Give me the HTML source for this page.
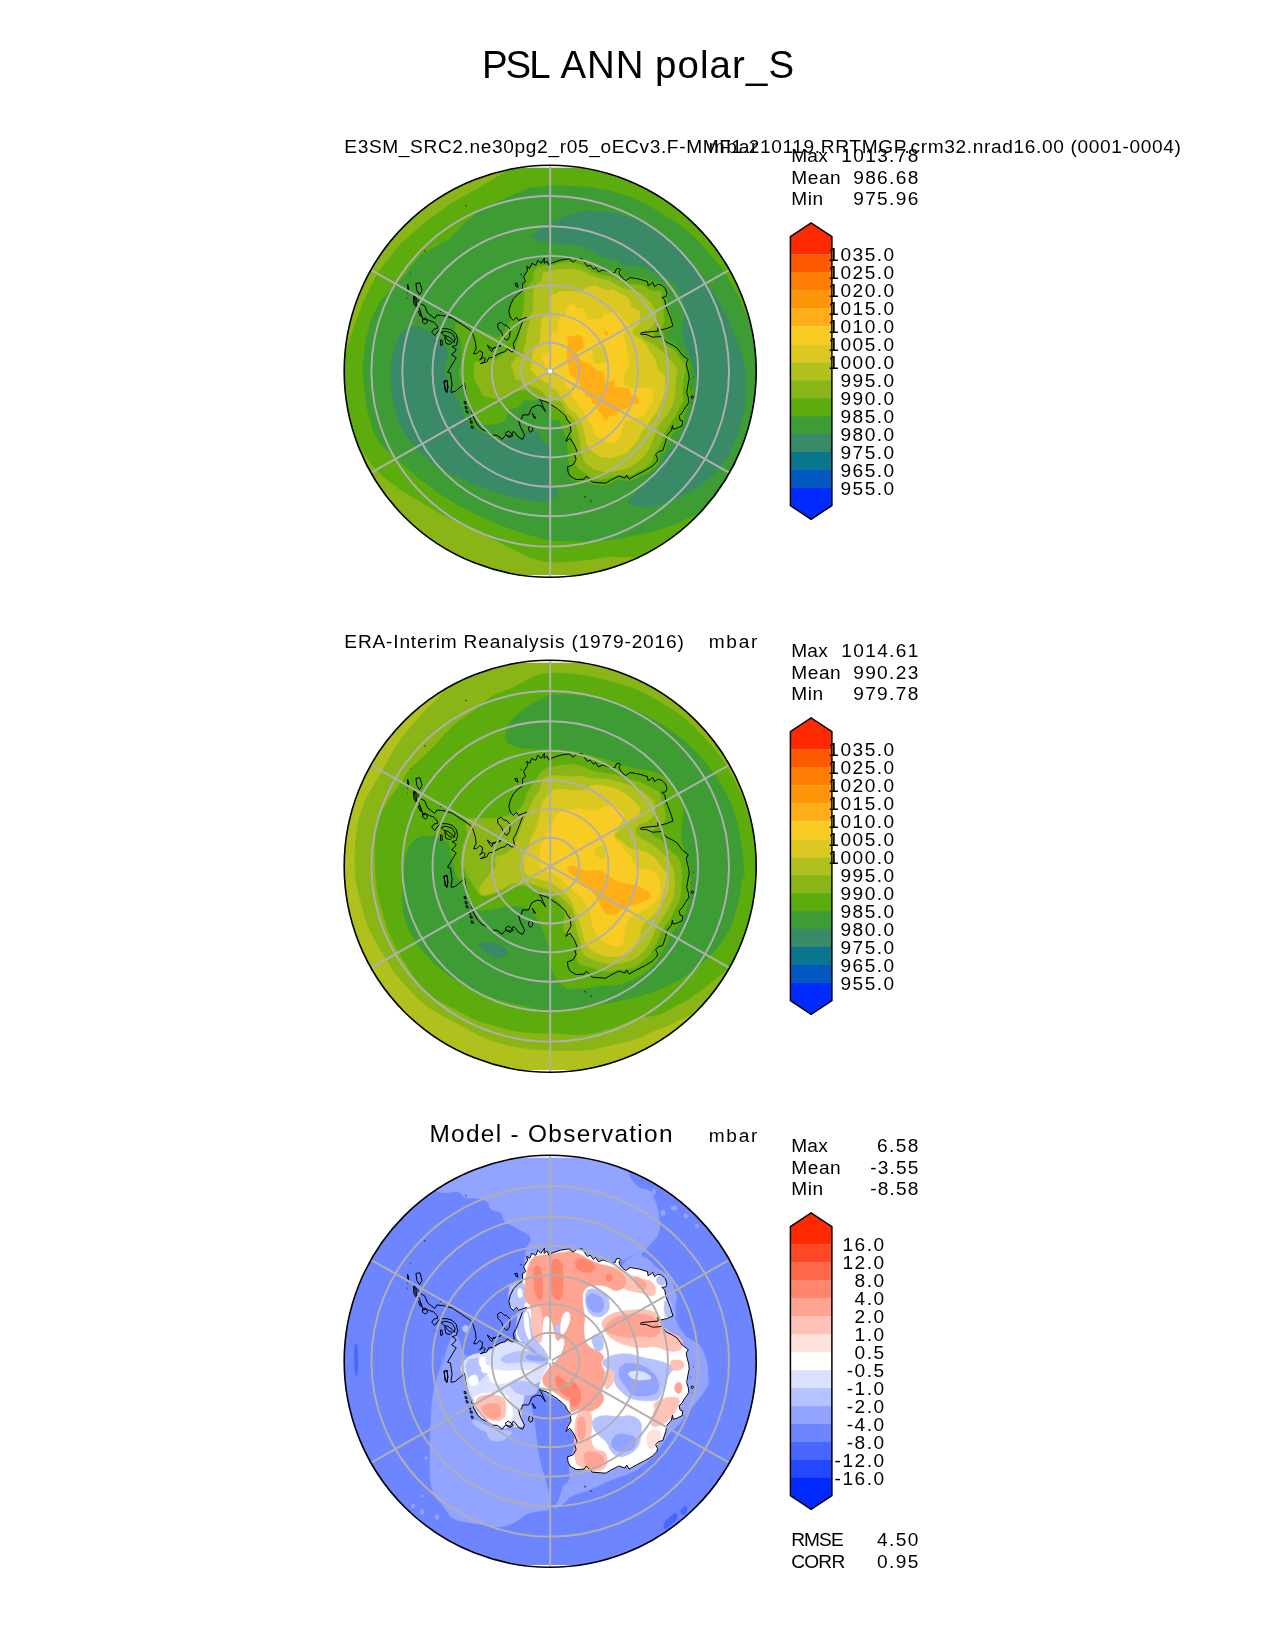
<!DOCTYPE html><html><head><meta charset="utf-8"><style>html,body{margin:0;padding:0;background:#fff}svg{display:block;will-change:transform}text{font-family:"Liberation Sans",sans-serif;fill:#000}</style></head><body>
<svg width="1275" height="1650" viewBox="0 0 1275 1650">
<rect width="1275" height="1650" fill="#fff"/>
<defs>
<clipPath id="c0"><circle cx="550.2" cy="371.3" r="206.0"/></clipPath>
<clipPath id="c1"><circle cx="550.2" cy="866.3" r="206.0"/></clipPath>
<clipPath id="c2"><circle cx="550.2" cy="1361.3" r="206.0"/></clipPath>
</defs>
<g clip-path="url(#c0)">
<rect x="340" y="161.3" width="420" height="420" fill="#5dac0e"/>
<path d="M343.5 360.5 L350.3 336.0 L362.3 302.9 L377.9 271.8 L399.3 244.7 L424.9 221.9 L452.4 202.0 L482.5 185.2 L510.7 168.1 L509.2 160.3 L442.7 185.1 L385.5 233.1 L348.2 297.8 L335.5 360.0Z" fill="#8ab516" stroke="#8ab516" stroke-width="0.6"/>
<path d="M638.0 558.0 L610.0 557.0 L590.0 560.0 L570.0 562.0 L550.0 563.0 L530.0 558.0 L510.0 548.5 L480.0 532.0 L460.0 523.0 L440.0 514.0 L420.0 502.0 L400.0 490.0 L384.0 478.0 L372.0 466.0 L364.0 454.0 L358.0 444.0 L320.0 444.0 L320.0 620.0 L660.0 620.0Z" fill="#8ab516" stroke="#8ab516" stroke-width="0.6"/>
<path d="M550.0 186.0 L570.0 186.0 L590.0 187.4 L610.0 191.0 L630.0 197.0 L650.0 206.4 L670.0 219.0 L686.0 230.0 L695.3 238.2 L703.4 247.3 L713.6 259.6 L721.8 268.7 L727.9 277.9 L733.0 287.1 L738.0 296.3 L742.2 305.4 L747.0 318.0 L765.0 318.0 L765.0 500.0 L700.0 514.0 L691.7 516.3 L672.9 525.1 L647.8 532.6 L622.7 537.6 L597.6 541.4 L570.0 541.0 L550.0 540.4 L540.0 538.0 L520.0 532.0 L500.0 525.0 L480.0 516.0 L460.0 506.0 L440.0 494.0 L420.0 479.0 L398.0 460.0 L382.0 446.0 L373.0 430.0 L367.6 410.0 L364.4 390.0 L363.0 370.0 L363.6 360.0 L366.0 340.0 L371.0 320.0 L380.0 302.0 L394.0 286.0 L406.0 274.0 L420.0 256.0 L434.0 248.0 L448.0 240.0 L464.0 224.0 L480.0 210.0 L506.0 198.0 L530.0 188.0Z" fill="#3e9c35" stroke="#3e9c35" stroke-width="0.6"/>
<path d="M531.0 237.0 L540.0 229.0 L550.0 224.0 L570.0 215.0 L586.0 211.0 L610.0 212.4 L630.0 217.6 L650.0 226.0 L653.5 230.0 L663.6 236.1 L675.9 246.3 L687.1 257.5 L696.3 269.8 L705.4 282.0 L713.6 293.2 L721.8 307.5 L728.9 321.8 L735.0 337.0 L740.1 350.3 L743.2 360.0 L746.0 380.0 L744.0 410.0 L738.0 434.0 L728.0 456.0 L718.0 470.0 L702.0 484.0 L682.0 496.0 L662.0 504.0 L642.0 507.0 L628.0 504.0 L629.1 500.0 L636.3 492.3 L641.4 487.3 L646.5 480.1 L651.6 475.0 L656.7 469.9 L661.8 461.8 L666.9 453.6 L673.0 447.5 L679.1 439.3 L684.2 429.1 L688.3 421.0 L692.3 410.8 L696.4 400.6 L697.4 390.4 L696.9 380.2 L696.4 380.0 L693.9 367.3 L689.8 355.0 L685.2 343.8 L682.2 334.6 L682.7 329.5 L684.7 316.3 L683.2 307.1 L682.2 294.9 L678.1 288.7 L672.0 280.6 L661.8 277.5 L651.6 270.4 L641.4 266.3 L623.0 264.3 L614.9 259.2 L600.6 256.1 L591.9 250.0 L580.0 245.6 L560.0 243.0 L540.0 241.0Z" fill="#3a8a68" stroke="#3a8a68" stroke-width="0.6"/>
<path d="M408.0 326.4 L420.0 327.0 L432.0 334.0 L440.0 339.0 L445.0 346.0 L447.6 352.0 L445.1 370.0 L446.1 380.2 L451.2 390.4 L457.3 398.5 L460.4 405.7 L463.5 413.8 L467.5 423.0 L473.6 429.1 L480.8 432.2 L487.9 435.3 L495.1 438.3 L503.2 440.4 L511.4 438.8 L518.5 439.3 L522.6 439.3 L524.6 432.7 L531.8 431.2 L539.9 434.2 L542.0 442.6 L549.1 445.4 L550.0 472.0 L550.3 488.3 L557.3 489.3 L557.3 496.4 L550.6 496.9 L550.0 502.0 L530.0 500.0 L510.0 496.0 L490.0 490.0 L470.0 482.0 L452.0 474.0 L434.0 464.0 L420.0 452.0 L408.0 438.0 L400.0 424.0 L395.0 410.0 L391.6 390.0 L391.0 370.0 L391.0 368.0 L393.0 354.0 L397.0 342.0 L402.0 332.0Z" fill="#3a8a68" stroke="#3a8a68" stroke-width="0.6"/>
<path d="M570.0 258.2 L580.2 259.2 L590.4 264.3 L600.6 269.4 L610.8 270.4 L614.9 271.9 L615.9 267.8 L620.0 267.3 L621.5 270.4 L620.5 274.5 L623.0 278.0 L627.1 277.0 L639.3 277.5 L647.5 280.1 L657.7 282.6 L663.8 285.7 L667.9 292.8 L666.9 298.9 L667.9 307.1 L670.9 315.3 L674.0 326.5 L667.9 330.5 L663.8 331.6 L665.8 339.7 L673.0 342.8 L678.1 346.9 L683.2 354.0 L689.3 359.1 L688.3 364.2 L689.8 372.3 L690.3 375.1 L689.8 385.3 L689.8 400.6 L686.2 410.8 L683.7 417.9 L683.7 425.6 L677.1 430.2 L673.0 433.2 L667.9 441.4 L664.8 451.6 L659.7 454.6 L659.2 461.8 L654.6 467.9 L647.5 473.0 L639.3 477.1 L630.2 481.1 L618.9 479.1 L610.8 483.2 L604.7 485.2 L592.4 484.2 L585.3 481.1 L576.1 481.1 L570.0 478.1 L569.0 461.8 L567.4 445.4 L567.4 441.4 L565.4 435.3 L562.3 427.1 L559.3 420.0 L550.2 418.9 L549.6 404.2 L543.0 400.6 L540.9 396.7 L537.9 399.6 L531.8 400.6 L524.6 399.6 L517.5 407.7 L509.3 408.7 L506.3 415.9 L505.3 421.0 L495.1 424.0 L484.9 424.5 L478.7 421.0 L473.6 414.9 L469.6 405.7 L465.5 395.5 L462.9 385.3 L460.4 380.2 L458.9 370.0 L459.4 372.3 L460.9 362.2 L461.4 352.0 L461.4 341.8 L459.4 336.7 L454.8 331.6 L455.3 323.9 L460.4 324.2 L465.5 326.5 L470.6 330.5 L472.6 328.5 L480.8 331.3 L488.9 334.6 L497.1 337.2 L501.2 334.6 L505.3 329.5 L509.3 322.4 L511.4 320.4 L509.8 313.2 L510.4 307.1 L512.9 300.0 L515.4 295.9 L521.6 290.8 L524.1 283.6 L524.6 276.5 L527.7 270.4 L531.8 266.3 L536.9 263.8 L542.0 263.3 L548.1 264.8 L551.1 262.7 L560.3 260.2Z" fill="#5dac0e" stroke="#5dac0e" stroke-width="0.6"/>
<path d="M570.0 262.2 L580.2 264.8 L590.4 270.9 L600.6 275.0 L610.8 276.7 L618.9 280.1 L625.1 284.2 L635.3 284.2 L643.4 285.7 L649.5 289.8 L654.6 291.3 L660.2 291.3 L662.3 295.9 L663.3 303.0 L663.3 313.2 L664.3 321.4 L661.8 328.0 L656.7 330.5 L653.1 331.6 L654.6 336.7 L661.8 338.7 L664.8 344.8 L670.9 347.9 L676.0 352.0 L680.1 358.1 L684.2 363.2 L685.2 370.3 L684.2 375.1 L683.2 380.2 L682.2 390.4 L683.2 400.6 L679.1 408.7 L676.0 414.9 L672.0 421.0 L667.9 427.1 L663.8 433.2 L661.8 441.4 L657.7 449.5 L653.6 454.6 L651.6 461.8 L646.5 466.9 L639.3 470.9 L631.2 475.0 L621.0 475.0 L610.8 477.1 L600.6 479.6 L590.4 477.1 L585.3 473.0 L580.2 469.9 L576.1 465.8 L575.1 457.7 L576.1 451.6 L574.1 444.4 L571.0 431.2 L570.0 423.0 L567.4 418.9 L563.4 414.9 L557.3 409.8 L551.1 404.7 L546.0 401.6 L537.9 396.5 L533.8 393.5 L527.7 390.4 L521.6 389.9 L511.4 392.4 L505.3 395.5 L499.1 399.6 L491.0 397.5 L482.8 395.5 L480.8 390.4 L474.7 380.2 L473.6 370.0 L474.2 372.3 L474.7 362.2 L487.9 361.1 L497.1 359.6 L501.2 356.0 L505.3 352.0 L511.4 350.4 L515.4 348.9 L516.5 344.8 L518.5 338.7 L520.5 331.6 L522.6 323.4 L521.6 319.3 L523.6 311.2 L524.1 301.0 L524.6 289.3 L529.7 284.7 L532.8 280.6 L533.8 272.4 L536.9 267.8 L542.0 266.3 L552.2 265.3 L560.3 263.3Z" fill="#8ab516" stroke="#8ab516" stroke-width="0.6"/>
<path d="M570.0 268.9 L580.2 270.4 L590.4 275.0 L600.6 279.1 L608.7 280.6 L615.9 284.7 L623.0 288.7 L631.2 289.8 L639.3 292.8 L645.4 296.9 L650.5 303.0 L654.6 309.1 L656.7 315.3 L654.6 321.4 L651.6 327.5 L645.4 330.5 L641.4 331.6 L640.4 334.6 L643.4 338.7 L647.5 341.8 L654.6 345.3 L659.7 349.9 L665.8 355.0 L670.9 361.1 L676.0 367.3 L678.1 374.4 L676.5 375.1 L675.5 380.2 L675.0 395.5 L672.0 405.7 L667.9 413.8 L661.8 421.0 L657.7 427.1 L654.6 435.3 L651.6 443.4 L647.5 451.6 L641.4 458.7 L635.3 463.8 L627.1 467.9 L615.9 470.9 L605.7 472.0 L595.5 469.9 L587.3 464.8 L583.3 458.7 L581.2 451.6 L580.2 441.4 L578.2 431.2 L575.1 421.0 L570.0 414.9 L566.4 412.8 L562.1 402.1 L555.9 399.6 L550.2 398.7 L546.5 396.5 L543.3 392.7 L538.9 389.0 L533.9 386.5 L530.2 385.2 L525.8 384.6 L523.9 382.1 L520.1 380.2 L515.1 378.9 L514.5 372.7 L511.6 367.6 L511.3 363.9 L516.3 357.6 L520.1 357.0 L523.9 355.1 L523.9 348.8 L525.8 342.5 L526.4 336.3 L527.6 330.0 L529.7 322.4 L529.7 316.3 L532.8 312.2 L533.3 301.0 L533.8 290.8 L535.8 285.2 L541.4 280.6 L543.0 272.9 L552.2 270.4 L560.3 269.4Z" fill="#b0c01c" stroke="#b0c01c" stroke-width="0.6"/>
<path d="M610.8 289.3 L615.9 290.8 L625.1 295.9 L630.2 301.0 L631.2 307.1 L639.3 311.2 L640.4 315.3 L639.3 323.4 L633.2 329.5 L632.2 334.6 L639.3 338.7 L645.4 343.8 L649.5 352.0 L654.6 358.1 L656.7 365.2 L659.7 372.3 L664.8 375.1 L664.8 380.2 L664.8 390.4 L661.8 400.6 L659.7 405.7 L657.7 410.8 L651.6 417.9 L647.5 425.1 L641.4 431.2 L638.3 439.3 L631.2 447.5 L627.1 452.6 L618.9 455.6 L610.8 457.7 L600.6 456.7 L592.4 451.6 L587.3 445.4 L585.3 436.3 L583.3 427.1 L580.2 418.9 L575.1 412.8 L570.0 409.3 L566.4 403.6 L560.3 396.5 L558.4 392.7 L555.9 389.0 L550.2 388.3 L550.2 382.7 L544.6 382.1 L543.3 380.2 L537.7 377.1 L535.2 373.9 L531.1 370.2 L531.4 362.6 L532.7 355.1 L533.8 360.0 L532.8 354.0 L533.8 348.4 L539.4 342.7 L540.7 336.5 L541.0 323.9 L542.5 317.6 L548.8 315.8 L550.7 315.1 L550.7 294.4 L557.6 293.8 L558.9 291.3 L570.8 291.3 L580.2 291.9 L584.0 289.4 L586.5 287.5 L595.2 285.6 L600.9 288.2 L610.0 290.7Z" fill="#dcc820" stroke="#dcc820" stroke-width="0.6"/>
<path d="M618.9 313.2 L623.0 319.3 L627.1 323.4 L630.2 327.5 L625.1 330.5 L623.0 336.7 L625.1 343.8 L627.1 352.0 L629.1 360.1 L628.1 367.3 L625.1 372.3 L623.0 380.0 L623.5 380.2 L625.1 385.3 L631.2 388.4 L641.4 387.8 L652.6 388.9 L653.1 400.6 L647.5 408.7 L645.4 414.9 L635.3 417.9 L627.1 420.0 L623.0 424.0 L621.0 433.2 L617.9 440.4 L612.8 443.4 L605.7 441.4 L595.5 435.3 L592.4 427.1 L587.3 418.9 L583.3 410.8 L578.2 403.6 L572.0 396.5 L570.0 388.3 L567.2 386.5 L565.3 382.1 L559.0 377.7 L557.8 373.3 L552.7 372.7 L550.2 370.8 L548.3 370.2 L544.6 367.6 L544.6 362.6 L542.4 359.5 L541.9 360.0 L543.2 353.4 L548.8 352.8 L550.7 342.7 L551.3 333.0 L557.6 332.1 L558.2 323.9 L559.5 317.6 L566.1 315.1 L566.4 311.4 L568.3 305.1 L573.9 304.5 L576.4 308.2 L582.7 308.9 L584.6 311.4 L585.8 316.4 L589.0 319.8 L600.9 319.5 L603.4 315.1 L610.0 312.6Z" fill="#f8cc23" stroke="#f8cc23" stroke-width="0.6"/>
<path d="M592.7 348.4 L599.0 347.1 L605.3 348.4 L607.2 360.0 L606.7 352.0 L605.7 362.2 L595.5 363.2 L592.4 356.0Z" fill="#dcc820" stroke="#dcc820" stroke-width="0.6"/>
<path d="M568.3 337.1 L578.3 335.2 L582.1 336.5 L583.3 342.7 L583.3 347.9 L576.1 352.0 L578.2 357.1 L583.3 362.2 L590.4 364.2 L595.5 370.3 L603.6 372.3 L604.7 380.0 L605.7 383.3 L613.8 380.2 L614.9 387.3 L629.1 388.4 L631.2 395.5 L638.3 397.5 L638.3 403.6 L631.2 404.7 L627.1 407.7 L618.9 410.8 L615.9 414.9 L608.7 415.9 L607.7 418.9 L604.7 420.0 L602.6 414.9 L598.5 410.8 L597.5 404.7 L592.4 403.6 L591.4 398.5 L585.3 395.5 L584.3 390.4 L580.2 385.3 L578.2 380.2 L570.0 374.1 L567.6 360.0 L567.0 352.8 L568.3 349.0 L567.6 342.7Z" fill="#ffae17" stroke="#ffae17" stroke-width="0.6"/>
<path d="M604.0 332.1 L606.2 331.1 L607.8 333.3 L607.8 335.8 L606.2 335.5Z" fill="#ffae17" stroke="#ffae17" stroke-width="0.6"/>
<rect x="340" y="165.1" width="420" height="2.6" fill="#fff"/>
<rect x="340" y="575.0" width="420" height="3" fill="#fff"/>
<path d="M526.7 317.3 L518.5 320.4 L516.5 317.3 L513.4 320.4 L510.4 317.3 L508.8 311.2 L510.4 305.1 L513.4 298.9 L518.5 293.8 L522.6 290.8 L522.6 283.6 L525.6 281.6 L523.6 276.5 L527.7 270.4 L526.7 266.3 L529.7 268.4 L531.8 263.3 L535.8 265.3 L537.9 260.2 L540.9 263.3 L544.5 258.2 L544.0 263.3 L547.1 261.2 L549.1 265.3 L551.1 263.3 L560.3 260.2 L570.0 258.7 L570.0 259.7 L573.1 262.2 L576.1 259.7 L582.2 258.7 L587.3 266.3 L590.4 265.3 L593.5 269.4 L595.5 267.3 L598.5 271.9 L602.6 269.9 L610.8 272.4 L614.9 272.9 L616.4 268.9 L619.4 268.4 L620.5 269.9 L618.9 271.9 L620.0 275.0 L623.0 278.5 L625.6 280.6 L630.2 277.5 L639.3 279.1 L647.5 281.6 L648.0 285.7 L651.6 283.6 L652.6 282.1 L654.6 286.7 L657.7 284.2 L661.8 285.2 L665.3 288.7 L666.9 292.8 L665.8 296.9 L661.8 297.4 L664.8 300.0 L665.8 306.1 L667.9 311.2 L670.4 317.3 L673.0 326.0 L666.9 328.5 L660.7 330.0 L657.7 327.5 L658.2 331.1 L651.6 331.6 L641.4 332.6 L640.4 334.1 L646.5 334.6 L652.6 337.2 L659.7 336.7 L661.8 336.2 L665.8 341.8 L672.0 344.8 L677.1 347.9 L682.2 355.0 L688.3 359.6 L686.2 363.2 L687.3 368.3 L688.8 374.4 L689.3 380.0 L688.8 380.2 L686.7 392.4 L688.3 397.5 L688.8 402.6 L685.2 407.7 L682.2 412.8 L679.1 415.9 L680.1 420.0 L682.7 421.0 L682.2 425.6 L676.0 428.6 L673.0 429.1 L672.5 425.1 L671.4 430.2 L666.9 435.3 L665.8 441.4 L662.8 450.5 L658.7 451.6 L655.6 454.6 L657.7 458.7 L656.7 461.8 L652.6 465.8 L649.5 467.9 L644.4 470.9 L636.3 475.0 L629.1 479.1 L626.6 475.0 L625.1 478.1 L618.9 476.0 L610.8 480.1 L605.7 483.2 L592.4 482.2 L586.3 476.0 L584.3 479.1 L576.1 479.6 L570.0 476.0 L568.0 472.0 L567.5 466.9 L573.1 464.8 L576.1 459.7 L574.6 454.6 L577.1 451.6 L574.1 444.4 L570.0 438.3 L565.9 441.4 L568.0 436.3 L571.0 431.2 L570.0 423.0 L567.4 420.0 L565.4 415.9 L562.3 412.8 L557.3 408.7 L551.1 404.7 L546.0 401.6 L542.0 400.6 L537.9 396.5 L540.9 401.6 L545.5 411.8 L540.9 405.7 L536.9 405.2 L531.8 407.7 L528.7 414.9 L522.6 414.9 L521.6 418.9 L518.5 420.0 L520.5 427.1 L522.6 431.2 L524.6 435.3 L522.6 439.3 L518.5 437.3 L515.4 433.2 L513.4 431.2 L510.4 436.3 L505.3 435.3 L502.2 439.3 L497.1 435.3 L493.0 435.3 L487.9 432.2 L481.8 429.1 L477.7 425.1 L473.6 417.9 L470.6 408.7 L467.5 400.6 L465.5 390.4 L464.5 383.3 L461.4 386.3 L455.3 391.4 L451.2 392.4 L451.1 390.4 L452.1 384.3 L451.1 378.2 L450.6 373.1 L447.5 372.1 L450.1 368.0 L453.1 362.9 L456.2 357.8 L451.6 354.7 L454.1 352.7 L456.2 349.6 L452.1 346.6 L456.2 345.5 L457.7 340.4 L456.2 334.3 L452.1 330.3 L447.0 328.7 L440.9 328.7 L437.8 331.3 L434.8 335.4 L431.7 332.3 L433.7 329.2 L437.8 328.2 L436.8 325.2 L433.7 322.1 L429.7 320.6 L425.6 319.0 L423.5 320.1 L421.5 315.0 L419.5 308.8 L415.4 303.7 L414.4 295.6 L420.5 303.7 L424.6 305.8 L427.6 312.9 L434.8 318.5 L436.8 315.0 L442.9 315.5 L452.1 318.0 L461.3 324.1 L470.4 330.3 L473.0 334.3 L475.5 342.5 L476.1 348.6 L473.5 353.7 L476.6 353.7 L479.6 350.6 L482.7 352.7 L481.7 357.8 L479.6 359.8 L483.7 357.3 L485.2 358.8 L483.7 362.4 L480.1 363.7 L486.8 361.9 L488.8 357.8 L492.9 357.3 L497.0 354.7 L501.0 352.7 L505.1 351.7 L507.2 348.6 L511.2 351.7 L516.3 351.7 L514.3 349.6 L513.3 343.5 L516.3 338.4 L519.4 330.3 L522.4 322.1 L526.7 317.3 M497.5 324.1 L501.0 322.1 L504.1 325.2 L506.1 325.2 L510.2 329.2 L509.7 336.4 L507.2 340.4 L504.1 338.4 L501.5 332.3 L498.0 328.2 L497.5 324.1 M487.3 345.0 L489.8 349.6 L491.9 351.7 L492.9 348.1 L497.0 346.6 L501.0 345.5 L497.0 347.6 L491.9 348.6 L487.3 345.0 M440.9 332.3 L446.0 331.3 L452.1 333.3 L455.2 338.4 L454.1 342.5 L452.1 339.4 L448.0 336.4 L443.9 335.4 L440.9 332.3 M445.0 336.4 L448.0 340.4 L452.1 342.5 L450.1 344.5 L446.0 343.5 L445.0 339.4 L445.0 336.4 M440.4 339.9 L442.1 340.4 L442.4 345.0 L440.7 345.5 L440.4 339.9 M415.9 283.4 L420.0 282.8 L422.0 290.5 L419.5 294.6 L416.9 290.5 L415.9 283.4 M407.7 284.4 L408.8 288.5 L408.3 290.5 L407.4 287.4 L407.7 284.4 M413.4 296.6 L416.9 300.7 L415.9 306.8 L413.9 303.7 L413.4 296.6 M443.9 381.2 L447.0 380.7 L448.0 387.3 L446.5 392.4 L445.0 387.3 L443.9 381.2 M422.5 319.0 L425.6 318.0 L427.6 322.1 L425.6 324.1 L422.5 322.1 L422.5 319.0 M418.5 310.9 L420.5 312.9 L421.5 317.0 L419.5 315.0 L418.5 310.9 M528.7 427.1 L530.7 425.6 L532.8 428.1 L532.3 431.2 L530.2 432.2 L528.7 430.2 L528.7 427.1 M532.3 413.3 L533.3 414.9 L535.8 417.9 L534.3 418.4 L532.3 413.3 M444.1 381.2 L447.1 380.2 L447.6 386.3 L447.1 392.4 L445.1 390.4 L444.1 381.2 M464.0 401.4 L465.8 401.8 L466.2 403.8 L464.4 403.6 L464.0 401.4 M465.0 406.5 L466.8 406.9 L467.2 408.9 L465.4 408.7 L465.0 406.5 M466.0 410.6 L467.8 411.0 L468.2 413.0 L466.4 412.8 L466.0 410.6 M468.5 416.7 L470.4 417.1 L470.8 419.1 L469.0 418.9 L468.5 416.7 M470.1 420.8 L471.9 421.2 L472.3 423.2 L470.5 423.0 L470.1 420.8 M471.1 425.9 L472.9 426.3 L473.3 428.3 L471.5 428.1 L471.1 425.9 M505.3 433.2 L508.3 431.2 L511.4 433.2 L513.4 435.3 L510.4 437.3 L507.3 436.3 L505.3 433.2 M410.0 273.0 L410.6 273.4 M407.4 293.3 L408.1 293.8 M406.9 297.9 L407.5 298.3 M434.5 340.8 L435.1 341.2 M437.0 340.8 L437.6 341.2 M440.1 311.2 L440.7 311.6 M465.4 205.2 L466.6 206.0 M424.4 250.6 L425.6 251.4 M693.1 376.9 L693.7 377.3 M690.0 387.1 L690.6 387.5 M692.6 402.9 L693.2 403.3 M585.0 496.7 L585.6 497.1 M584.4 496.2 L585.6 497.0 M590.4 500.6 L591.6 501.4 M515.7 285.0 L516.3 285.4 M520.8 274.3 L521.4 274.7 M520.6 274.5 L521.2 274.9 M514.9 283.6 L517.0 283.1 L518.0 287.2 L516.0 286.2 L514.9 283.6 M691.3 396.5 L692.9 396.0 L693.6 397.5 L692.3 398.8 L691.1 397.7 L691.3 396.5" fill="none" stroke="#000" stroke-width="1.0" stroke-linejoin="round"/>
<g fill="none" stroke="#b0b0b0" stroke-width="1.9"><ellipse cx="550.2" cy="371.3" rx="29.1" ry="28.6"/><ellipse cx="550.2" cy="371.3" rx="58.3" ry="57.2"/><ellipse cx="550.2" cy="371.3" rx="87.8" ry="86.1"/><ellipse cx="550.2" cy="371.3" rx="117.7" ry="115.4"/><ellipse cx="550.2" cy="371.3" rx="147.9" ry="145.0"/><ellipse cx="550.2" cy="371.3" rx="178.8" ry="175.3"/><line x1="360.3" y1="263.8" x2="740.1" y2="478.8"/><line x1="550.2" y1="156.3" x2="550.2" y2="586.3"/><line x1="740.1" y1="263.8" x2="360.3" y2="478.8"/></g>
<rect x="548.3" y="369.4" width="3.6" height="3.6" fill="#fff"/>
</g>
<circle cx="550.2" cy="371.3" r="206.0" fill="none" stroke="#000" stroke-width="1.6"/>
<g clip-path="url(#c1)">
<rect x="340" y="656.3" width="420" height="420" fill="#b0c01c"/>
<path d="M765.1 870.5 L765.0 873.3 L764.9 876.1 L764.8 879.0 L764.6 881.8 L764.4 884.6 L764.1 887.4 L763.8 890.2 L763.5 893.0 L763.1 895.7 L762.7 898.5 L762.3 901.3 L761.8 904.1 L761.3 906.9 L760.7 909.6 L760.1 912.4 L759.5 915.1 L758.9 917.8 L758.2 920.6 L757.4 923.3 L756.7 926.0 L755.9 928.7 L755.0 931.4 L754.2 934.1 L753.3 936.7 L752.3 939.4 L751.4 942.0 L750.3 944.6 L749.3 947.2 L748.2 949.8 L747.1 952.4 L746.0 955.0 L744.8 957.6 L743.6 960.1 L742.3 962.6 L741.1 965.1 L739.8 967.6 L738.4 970.1 L737.0 972.5 L735.5 974.9 L734.0 977.3 L732.4 979.6 L730.7 981.8 L728.9 984.0 L727.0 986.1 L725.1 988.2 L723.1 990.2 L721.1 992.1 L719.0 994.1 L716.9 995.9 L714.8 997.8 L712.7 999.6 L710.6 1001.4 L708.4 1003.2 L706.4 1005.0 L704.3 1006.9 L702.3 1008.7 L700.3 1010.6 L698.1 1012.2 L695.6 1013.6 L693.0 1014.7 L690.2 1015.6 L687.4 1016.6 L684.7 1017.6 L682.2 1018.7 L679.7 1019.9 L677.2 1021.0 L674.8 1022.2 L672.4 1023.4 L670.0 1024.5 L667.6 1025.6 L665.1 1026.6 L662.6 1027.6 L660.1 1028.4 L657.6 1029.3 L655.2 1030.3 L652.8 1031.3 L650.5 1032.3 L648.1 1033.4 L645.8 1034.4 L643.5 1035.5 L641.2 1036.6 L638.9 1037.6 L636.6 1038.5 L634.2 1039.4 L631.8 1040.2 L629.3 1040.9 L626.9 1041.6 L624.4 1042.2 L622.0 1042.7 L619.5 1043.3 L617.0 1043.8 L614.6 1044.3 L612.1 1044.8 L609.7 1045.4 L607.3 1045.9 L604.9 1046.5 L602.5 1047.0 L600.1 1047.6 L597.6 1048.1 L595.2 1048.6 L592.8 1049.1 L590.4 1049.5 L588.0 1049.8 L585.5 1050.1 L583.1 1050.3 L580.6 1050.4 L578.2 1050.5 L575.7 1050.5 L573.2 1050.5 L570.8 1050.5 L568.4 1050.5 L565.9 1050.4 L563.5 1050.4 L561.1 1050.3 L558.6 1050.2 L556.2 1050.2 L553.8 1050.2 L551.4 1050.1 L549.0 1050.1 L546.6 1050.0 L544.2 1049.9 L541.8 1049.8 L539.4 1049.7 L537.0 1049.6 L534.6 1049.4 L532.2 1049.2 L529.8 1048.9 L527.4 1048.6 L525.0 1048.3 L522.6 1048.0 L520.3 1047.6 L517.9 1047.2 L515.5 1046.7 L513.2 1046.3 L510.8 1045.8 L508.5 1045.2 L506.1 1044.7 L503.8 1044.1 L501.5 1043.4 L499.2 1042.8 L496.9 1042.1 L494.6 1041.3 L492.3 1040.5 L490.1 1039.7 L487.8 1038.8 L485.6 1037.9 L483.4 1037.0 L481.2 1036.0 L479.0 1035.0 L476.9 1034.0 L474.7 1032.9 L472.6 1031.8 L470.4 1030.7 L468.3 1029.6 L466.2 1028.5 L464.1 1027.4 L462.0 1026.2 L459.9 1025.0 L457.9 1023.9 L455.8 1022.7 L453.7 1021.5 L451.6 1020.4 L449.4 1019.2 L447.3 1018.1 L445.2 1017.0 L443.0 1015.8 L440.9 1014.6 L438.8 1013.5 L436.7 1012.2 L434.6 1011.0 L432.5 1009.7 L430.4 1008.4 L428.4 1007.0 L426.4 1005.6 L424.5 1004.1 L422.6 1002.5 L420.7 1000.9 L418.9 999.3 L417.1 997.6 L415.4 995.9 L413.7 994.2 L412.0 992.4 L410.3 990.6 L408.6 988.8 L407.0 987.0 L405.3 985.2 L403.7 983.4 L402.1 981.5 L400.5 979.6 L398.9 977.7 L397.4 975.8 L395.9 973.8 L394.4 971.9 L393.0 969.8 L391.6 967.8 L390.3 965.8 L388.9 963.7 L387.6 961.6 L386.3 959.5 L385.1 957.4 L383.8 955.2 L382.6 953.1 L381.3 951.0 L380.1 948.8 L378.8 946.7 L377.5 944.5 L376.3 942.3 L375.1 940.2 L373.9 938.0 L372.7 935.7 L371.6 933.5 L370.5 931.2 L369.5 929.0 L368.5 926.6 L367.6 924.3 L366.7 922.0 L365.9 919.6 L365.2 917.2 L364.4 914.8 L363.8 912.4 L363.1 909.9 L362.4 907.5 L361.8 905.1 L361.1 902.6 L360.5 900.2 L359.8 897.7 L359.2 895.3 L358.6 892.8 L358.0 890.3 L357.5 887.8 L357.0 885.3 L356.6 882.8 L356.2 880.3 L355.8 877.8 L355.6 875.2 L355.4 872.7 L355.2 870.1 L355.1 867.6 L355.1 865.0 L355.0 862.5 L355.1 859.9 L355.1 857.4 L355.2 854.8 L355.2 852.2 L355.3 849.7 L355.4 847.1 L355.6 844.5 L355.7 842.0 L355.9 839.4 L356.2 836.9 L356.5 834.3 L356.8 831.8 L357.1 829.2 L357.5 826.7 L358.0 824.1 L358.5 821.6 L359.1 819.1 L359.7 816.6 L360.4 814.1 L361.1 811.6 L362.0 809.2 L362.9 806.8 L363.8 804.4 L364.8 802.0 L365.9 799.7 L367.1 797.4 L368.2 795.1 L369.5 792.8 L370.7 790.6 L372.0 788.4 L373.3 786.2 L374.6 784.0 L375.9 781.8 L377.2 779.6 L378.5 777.4 L379.8 775.2 L381.1 773.1 L382.4 770.9 L383.7 768.7 L384.9 766.5 L386.2 764.3 L387.4 762.1 L388.6 759.9 L389.9 757.6 L391.1 755.4 L392.3 753.2 L393.6 750.9 L394.9 748.7 L396.2 746.5 L397.6 744.3 L399.0 742.2 L400.4 740.0 L401.9 737.9 L403.4 735.8 L405.0 733.8 L406.6 731.8 L408.3 729.9 L410.1 728.0 L411.8 726.0 L413.5 724.1 L415.2 722.2 L417.0 720.2 L418.7 718.2 L420.4 716.2 L422.0 714.2 L423.8 712.2 L425.6 710.3 L427.4 708.4 L429.3 706.5 L431.2 704.7 L433.1 702.9 L435.1 701.1 L437.0 699.3 L439.0 697.4 L440.8 695.3 L442.6 693.1 L444.3 690.8 L446.1 688.6 L448.1 686.7 L450.2 684.8 L452.4 683.2 L454.5 681.5 L456.7 679.7 L458.8 677.9 L461.0 676.0 L463.1 674.1 L465.3 672.2 L467.6 670.4 L469.8 668.6 L472.2 666.9 L474.7 665.5 L477.2 664.3 L479.8 663.3 L482.5 662.4 L485.1 661.5 L487.8 660.6 L490.5 659.8 L493.2 659.1 L495.9 658.3 L498.7 657.6 L501.4 657.0 L504.1 656.4 L506.9 655.8 L509.6 655.2 L512.4 654.7 L515.2 654.2 L518.0 653.8 L520.8 653.4 L523.5 653.0 L526.3 652.7 L529.1 652.4 L531.9 652.1 L534.7 651.9 L537.5 651.7 L540.4 651.6 L543.2 651.5 L546.0 651.4 L548.8 651.4 L551.6 651.4 L554.4 651.4 L557.2 651.5 L560.0 651.6 L562.9 651.7 L565.7 651.9 L568.5 652.1 L571.3 652.4 L574.1 652.7 L576.9 653.0 L579.6 653.4 L582.4 653.8 L585.2 654.2 L588.0 654.7 L590.8 655.2 L593.5 655.8 L596.3 656.4 L599.0 657.0 L601.7 657.6 L604.5 658.3 L607.2 659.1 L609.9 659.8 L612.6 660.6 L615.3 661.5 L618.0 662.3 L620.6 663.2 L623.3 664.2 L625.9 665.1 L628.5 666.2 L631.1 667.2 L633.7 668.3 L636.3 669.4 L638.9 670.5 L641.5 671.7 L644.0 672.9 L646.5 674.2 L649.0 675.4 L651.5 676.7 L654.0 678.1 L656.4 679.5 L658.9 680.9 L661.3 682.3 L663.7 683.8 L666.1 685.3 L668.4 686.8 L670.8 688.4 L673.1 690.0 L675.4 691.6 L677.7 693.2 L679.9 694.9 L682.2 696.6 L684.4 698.4 L686.6 700.2 L688.7 702.0 L690.9 703.8 L693.0 705.6 L695.1 707.5 L697.1 709.4 L699.2 711.4 L701.2 713.3 L703.2 715.3 L705.1 717.3 L707.1 719.4 L709.0 721.4 L710.9 723.5 L712.7 725.6 L714.5 727.8 L716.3 729.9 L718.1 732.1 L719.9 734.3 L721.6 736.6 L723.3 738.8 L724.9 741.1 L726.5 743.4 L728.1 745.7 L729.7 748.1 L731.2 750.4 L732.7 752.8 L734.2 755.2 L735.6 757.6 L737.0 760.1 L738.4 762.5 L739.8 765.0 L741.1 767.5 L742.3 770.0 L743.6 772.5 L744.8 775.0 L746.0 777.6 L747.1 780.2 L748.2 782.8 L749.3 785.4 L750.3 788.0 L751.4 790.6 L752.3 793.2 L753.3 795.9 L754.2 798.5 L755.0 801.2 L755.9 803.9 L756.7 806.6 L757.4 809.3 L758.2 812.0 L758.9 814.8 L759.5 817.5 L760.1 820.2 L760.7 823.0 L761.3 825.7 L761.8 828.5 L762.3 831.3 L762.7 834.1 L763.1 836.9 L763.5 839.6 L763.8 842.4 L764.1 845.2 L764.4 848.0 L764.6 850.8 L764.8 853.6 L764.9 856.5 L765.0 859.3 L765.1 862.1 L765.1 864.9 L765.1 867.7Z" fill="#8ab516" stroke="#8ab516" stroke-width="0.6"/>
<path d="M764.9 870.5 L764.7 873.3 L764.4 876.1 L764.1 878.9 L763.6 881.7 L763.1 884.4 L762.5 887.2 L761.9 889.9 L761.2 892.7 L760.4 895.4 L759.7 898.1 L758.9 900.7 L758.1 903.4 L757.3 906.1 L756.5 908.7 L755.7 911.4 L754.9 914.0 L754.2 916.7 L753.4 919.3 L752.6 921.9 L751.7 924.5 L750.8 927.1 L749.8 929.7 L748.8 932.3 L747.7 934.8 L746.4 937.2 L745.2 939.7 L743.9 942.1 L742.5 944.5 L741.1 946.8 L739.7 949.2 L738.3 951.5 L736.9 953.8 L735.4 956.1 L734.0 958.4 L732.6 960.7 L731.2 963.0 L729.8 965.3 L728.2 967.5 L726.5 969.6 L724.5 971.5 L722.4 973.3 L720.2 975.1 L718.1 976.8 L715.9 978.5 L713.7 980.2 L711.5 981.9 L709.4 983.6 L707.4 985.3 L705.4 987.0 L703.3 988.6 L701.2 990.2 L699.1 991.7 L696.8 993.1 L694.6 994.6 L692.5 996.1 L690.4 997.6 L688.4 999.1 L686.3 1000.5 L684.0 1001.8 L681.7 1003.0 L679.2 1004.0 L676.9 1005.1 L674.6 1006.3 L672.4 1007.5 L670.4 1008.8 L668.2 1010.1 L666.1 1011.3 L663.9 1012.4 L661.7 1013.5 L659.4 1014.4 L656.9 1015.1 L654.4 1015.6 L651.7 1015.9 L649.0 1016.2 L646.4 1016.4 L643.8 1016.6 L641.1 1016.8 L638.7 1017.1 L636.3 1017.7 L634.2 1018.6 L632.2 1019.6 L630.1 1020.6 L628.1 1021.6 L626.0 1022.5 L623.9 1023.4 L621.8 1024.3 L619.7 1025.1 L617.6 1025.9 L615.4 1026.7 L613.3 1027.4 L611.1 1028.1 L609.0 1028.8 L606.8 1029.5 L604.6 1030.1 L602.5 1030.8 L600.3 1031.4 L598.1 1032.0 L595.9 1032.6 L593.7 1033.1 L591.5 1033.5 L589.3 1033.9 L587.1 1034.2 L584.8 1034.4 L582.5 1034.6 L580.3 1034.6 L578.0 1034.7 L575.7 1034.6 L573.5 1034.5 L571.2 1034.4 L569.0 1034.2 L566.7 1034.0 L564.5 1033.9 L562.3 1033.7 L560.1 1033.5 L557.9 1033.4 L555.7 1033.3 L553.5 1033.2 L551.3 1033.2 L549.1 1033.1 L546.9 1033.1 L544.7 1033.1 L542.6 1033.0 L540.4 1033.0 L538.2 1032.9 L536.0 1032.9 L533.8 1032.8 L531.6 1032.7 L529.4 1032.5 L527.2 1032.4 L525.0 1032.2 L522.8 1032.0 L520.7 1031.7 L518.5 1031.4 L516.3 1031.1 L514.1 1030.7 L512.0 1030.2 L509.8 1029.8 L507.7 1029.3 L505.5 1028.8 L503.4 1028.2 L501.3 1027.6 L499.1 1027.1 L497.0 1026.5 L494.9 1025.9 L492.7 1025.3 L490.6 1024.7 L488.4 1024.1 L486.3 1023.4 L484.2 1022.7 L482.1 1022.0 L480.0 1021.3 L477.9 1020.5 L475.8 1019.7 L473.7 1018.8 L471.7 1017.9 L469.7 1016.9 L467.7 1015.9 L465.7 1014.9 L463.7 1013.8 L461.7 1012.8 L459.8 1011.7 L457.8 1010.7 L455.8 1009.6 L453.8 1008.6 L451.7 1007.6 L449.7 1006.5 L447.7 1005.5 L445.6 1004.4 L443.6 1003.3 L441.6 1002.2 L439.6 1001.1 L437.6 999.9 L435.7 998.6 L433.8 997.3 L431.9 995.9 L430.1 994.5 L428.4 993.0 L426.7 991.4 L425.0 989.8 L423.4 988.2 L421.9 986.5 L420.4 984.8 L418.9 983.0 L417.5 981.2 L416.1 979.4 L414.7 977.5 L413.4 975.6 L412.1 973.8 L410.8 971.8 L409.5 969.9 L408.3 968.0 L407.1 966.1 L405.9 964.1 L404.7 962.1 L403.5 960.2 L402.4 958.2 L401.2 956.3 L400.1 954.3 L399.0 952.3 L397.9 950.3 L396.8 948.3 L395.7 946.3 L394.7 944.3 L393.7 942.2 L392.7 940.2 L391.8 938.1 L390.8 936.0 L389.9 933.9 L389.1 931.8 L388.2 929.7 L387.4 927.6 L386.6 925.4 L385.9 923.3 L385.1 921.1 L384.4 919.0 L383.7 916.8 L383.1 914.6 L382.5 912.4 L381.9 910.2 L381.3 908.0 L380.7 905.8 L380.2 903.6 L379.7 901.4 L379.2 899.2 L378.7 896.9 L378.3 894.7 L377.8 892.4 L377.4 890.2 L377.1 887.9 L376.7 885.7 L376.4 883.4 L376.1 881.1 L375.9 878.9 L375.7 876.6 L375.5 874.3 L375.4 872.0 L375.3 869.7 L375.3 867.4 L375.2 865.2 L375.2 862.9 L375.2 860.6 L375.2 858.3 L375.2 856.0 L375.1 853.7 L375.1 851.4 L375.2 849.0 L375.2 846.7 L375.2 844.4 L375.3 842.1 L375.4 839.8 L375.6 837.5 L375.8 835.1 L376.0 832.8 L376.3 830.5 L376.7 828.2 L377.1 825.9 L377.6 823.7 L378.1 821.4 L378.8 819.2 L379.5 817.0 L380.3 814.8 L381.2 812.6 L382.2 810.5 L383.3 808.5 L384.5 806.4 L385.7 804.4 L387.0 802.5 L388.3 800.5 L389.7 798.6 L391.1 796.7 L392.5 794.9 L393.8 793.0 L395.2 791.1 L396.5 789.3 L397.8 787.4 L399.1 785.5 L400.3 783.6 L401.5 781.8 L402.7 779.9 L404.0 778.0 L405.2 776.2 L406.5 774.3 L407.9 772.6 L409.3 770.8 L410.8 769.1 L412.3 767.5 L413.8 765.8 L415.4 764.3 L417.0 762.7 L418.6 761.1 L420.2 759.6 L421.8 758.1 L423.4 756.6 L425.0 755.1 L426.6 753.5 L428.2 752.0 L429.7 750.5 L431.3 749.0 L432.8 747.4 L434.4 745.8 L435.9 744.2 L437.4 742.6 L438.9 741.0 L440.3 739.3 L441.8 737.7 L443.3 736.0 L444.8 734.3 L446.3 732.7 L447.8 731.0 L449.4 729.4 L451.0 727.8 L452.6 726.3 L454.3 724.7 L456.0 723.3 L457.8 721.9 L459.6 720.5 L461.4 719.3 L463.3 718.0 L465.1 716.7 L467.0 715.4 L468.9 714.2 L470.8 712.9 L472.6 711.5 L474.4 710.0 L476.3 708.6 L478.1 707.1 L479.9 705.6 L481.8 704.0 L483.6 702.5 L485.6 701.0 L487.5 699.6 L489.5 698.3 L491.5 696.9 L493.6 695.7 L495.7 694.6 L497.8 693.7 L500.0 692.8 L502.3 691.9 L504.5 691.1 L506.7 690.2 L509.0 689.4 L511.2 688.4 L513.4 687.4 L515.7 686.3 L517.9 685.1 L520.1 683.9 L522.4 682.7 L524.7 681.4 L527.0 680.2 L529.3 679.0 L531.7 677.9 L534.1 676.8 L536.5 675.9 L539.0 675.1 L541.4 674.4 L543.9 673.9 L546.4 673.5 L548.9 673.3 L551.5 673.1 L554.0 673.1 L556.5 673.1 L559.1 673.2 L561.6 673.3 L564.1 673.4 L566.6 673.6 L569.2 673.8 L571.7 674.0 L574.2 674.2 L576.7 674.5 L579.2 674.8 L581.8 675.2 L584.3 675.6 L586.8 676.0 L589.3 676.4 L591.7 676.9 L594.2 677.5 L596.7 678.0 L599.2 678.6 L601.6 679.3 L604.1 679.9 L606.6 680.5 L609.0 681.2 L611.5 681.9 L613.9 682.5 L616.4 683.2 L618.9 683.9 L621.3 684.6 L623.8 685.4 L626.2 686.1 L628.7 686.9 L631.1 687.8 L633.5 688.7 L635.9 689.6 L638.3 690.6 L640.6 691.7 L643.0 692.8 L645.3 693.9 L647.5 695.1 L649.8 696.4 L652.1 697.6 L654.3 698.9 L656.5 700.2 L658.8 701.5 L661.0 702.8 L663.2 704.1 L665.5 705.5 L667.7 706.8 L669.9 708.2 L672.1 709.6 L674.3 711.0 L676.4 712.5 L678.6 714.0 L680.7 715.6 L682.7 717.2 L684.8 718.8 L686.8 720.5 L688.7 722.3 L690.6 724.0 L692.5 725.8 L694.4 727.7 L696.2 729.5 L698.1 731.4 L699.9 733.3 L701.7 735.2 L703.6 737.1 L705.4 739.0 L707.2 740.9 L708.9 742.9 L710.7 744.8 L712.4 746.8 L714.1 748.9 L715.8 750.9 L717.4 753.0 L719.0 755.1 L720.5 757.3 L722.0 759.5 L723.4 761.7 L724.8 764.0 L726.2 766.2 L727.5 768.5 L728.8 770.8 L730.1 773.1 L731.4 775.5 L732.7 777.8 L733.9 780.1 L735.2 782.5 L736.4 784.9 L737.6 787.3 L738.7 789.7 L739.9 792.1 L740.9 794.5 L742.0 797.0 L743.0 799.5 L744.0 801.9 L744.9 804.5 L745.7 807.0 L746.5 809.5 L747.3 812.1 L748.1 814.7 L748.9 817.2 L749.7 819.8 L750.6 822.4 L751.4 824.9 L752.3 827.5 L753.1 830.1 L753.9 832.7 L754.7 835.3 L755.4 837.9 L756.0 840.6 L756.7 843.2 L757.4 845.9 L758.2 848.6 L759.1 851.3 L760.0 854.0 L761.0 856.7 L762.2 859.4 L763.4 862.2 L764.2 864.9 L764.8 867.7Z" fill="#5dac0e" stroke="#5dac0e" stroke-width="0.6"/>
<path d="M505.8 734.5 L506.2 731.5 L507.2 728.5 L508.6 725.5 L510.4 722.5 L512.6 719.5 L515.2 716.6 L518.1 713.9 L521.2 711.2 L524.8 708.8 L528.6 706.2 L532.9 703.8 L537.5 701.2 L542.5 698.8 L546.2 696.8 L548.8 695.4 L550.0 694.6 L550.0 694.4 L552.5 694.3 L557.5 694.4 L565.0 694.8 L575.0 695.2 L585.0 696.3 L595.0 697.9 L605.0 700.1 L615.0 702.9 L625.0 706.3 L635.0 710.4 L645.0 715.2 L655.0 720.8 L664.4 726.5 L673.1 732.5 L681.2 738.8 L688.8 745.2 L695.8 752.0 L702.2 759.0 L708.2 766.2 L713.8 773.8 L718.8 781.2 L723.2 788.8 L727.2 796.2 L730.8 803.8 L733.8 811.9 L736.4 820.6 L738.6 830.0 L740.4 840.0 L741.8 849.4 L742.8 858.1 L743.5 866.2 L743.9 873.8 L744.0 878.1 L744.0 879.4 L743.9 877.5 L743.5 872.5 L743.1 870.6 L742.5 871.9 L741.9 876.2 L741.1 883.8 L740.1 891.2 L738.7 898.8 L737.0 906.2 L735.0 913.8 L732.8 920.6 L730.2 926.9 L727.5 932.5 L724.5 937.5 L721.5 942.1 L718.5 946.2 L715.5 949.9 L712.5 953.1 L709.1 956.5 L705.4 960.0 L701.2 963.6 L696.8 967.4 L692.1 970.9 L687.4 974.3 L682.5 977.5 L677.5 980.5 L672.5 983.2 L667.5 985.8 L662.5 988.0 L657.5 990.0 L651.9 992.0 L645.6 994.0 L638.8 996.0 L631.2 998.0 L623.8 999.8 L616.2 1001.4 L608.8 1002.9 L601.2 1004.1 L593.1 1005.4 L584.4 1006.6 L575.0 1007.9 L565.0 1009.1 L557.5 1010.1 L552.5 1010.7 L550.0 1011.0 L550.0 1011.0 L548.1 1010.6 L544.4 1009.9 L538.8 1008.8 L531.2 1007.2 L523.8 1005.6 L516.2 1003.9 L508.8 1002.0 L501.2 1000.0 L493.8 997.6 L486.2 994.9 L478.8 991.8 L471.2 988.2 L464.4 984.8 L458.1 981.2 L452.5 977.8 L447.5 974.2 L442.5 970.4 L437.5 966.1 L432.5 961.5 L427.5 956.5 L422.9 951.2 L418.6 945.8 L414.8 940.0 L411.2 934.0 L408.4 928.2 L406.1 922.8 L404.5 917.5 L403.5 912.5 L402.8 906.9 L402.4 900.6 L402.4 893.8 L402.6 886.2 L403.0 879.1 L403.5 872.4 L404.1 866.0 L404.9 860.0 L406.1 854.7 L407.7 850.1 L409.8 846.1 L412.2 842.9 L414.8 840.3 L417.2 838.3 L419.8 837.0 L422.2 836.4 L425.0 836.0 L428.0 836.0 L431.2 836.4 L434.8 837.0 L437.9 837.8 L440.8 838.8 L443.4 839.9 L445.6 841.1 L447.4 842.8 L448.6 844.9 L449.4 847.5 L449.6 850.5 L450.0 853.4 L450.5 856.1 L451.2 858.8 L452.0 861.2 L452.8 863.8 L453.4 866.3 L454.0 868.8 L454.5 871.4 L455.2 873.7 L456.1 875.9 L457.2 877.9 L458.5 879.7 L459.8 881.5 L461.0 883.4 L462.3 885.4 L463.6 887.4 L464.7 889.5 L465.7 891.5 L466.6 893.5 L467.4 895.6 L468.2 897.6 L469.1 899.5 L470.1 901.3 L471.1 903.1 L472.1 904.8 L473.1 906.3 L474.2 907.7 L475.2 909.0 L476.6 909.9 L478.4 910.6 L480.5 910.9 L483.1 910.9 L485.6 910.8 L488.2 910.5 L490.7 910.1 L493.3 909.6 L495.9 909.1 L498.8 908.5 L501.7 907.9 L504.7 907.2 L507.8 906.8 L510.9 906.5 L513.9 906.5 L517.0 906.6 L519.8 906.9 L522.3 907.3 L524.6 907.9 L526.7 908.7 L528.5 909.7 L530.2 910.8 L531.6 912.2 L532.9 913.7 L534.1 915.2 L535.3 916.7 L536.3 918.3 L537.4 919.8 L538.4 921.5 L539.4 923.2 L540.4 925.2 L541.4 927.2 L542.4 929.2 L543.3 931.3 L544.1 933.3 L544.9 935.4 L545.6 937.4 L546.2 939.4 L546.8 941.5 L547.3 943.5 L547.8 945.7 L548.2 948.0 L548.6 950.4 L549.0 952.9 L549.4 955.5 L549.7 958.0 L550.0 960.6 L550.2 963.1 L550.6 965.6 L551.0 967.8 L551.6 970.0 L552.2 972.1 L553.0 974.0 L554.0 975.9 L555.1 977.8 L556.4 979.6 L557.7 981.2 L559.1 982.8 L560.6 984.2 L562.1 985.4 L563.6 986.6 L565.1 987.7 L566.5 988.7 L567.9 989.6 L568.9 990.1 L569.6 990.3 L570.0 990.2 L570.0 989.6 L570.6 989.3 L571.9 989.1 L573.8 989.1 L576.4 989.2 L578.9 989.2 L581.5 989.2 L584.0 989.0 L586.6 988.8 L589.1 988.4 L591.7 988.0 L594.2 987.4 L596.8 986.8 L599.3 986.3 L601.9 986.1 L604.4 986.0 L607.0 986.1 L609.6 986.1 L612.4 985.9 L615.4 985.6 L618.4 985.1 L621.5 984.4 L624.5 983.5 L627.6 982.4 L630.7 981.1 L633.6 979.8 L636.4 978.4 L639.1 976.9 L641.6 975.4 L644.0 973.8 L646.3 972.1 L648.5 970.4 L650.5 968.6 L652.4 966.8 L654.1 965.0 L655.5 963.3 L656.8 961.5 L657.9 959.8 L659.0 958.1 L659.9 956.5 L660.6 955.0 L661.5 953.3 L662.5 951.5 L663.7 949.6 L664.9 947.6 L666.1 945.5 L667.1 943.5 L668.0 941.5 L668.8 939.4 L669.6 937.5 L670.5 935.7 L671.4 934.1 L672.5 932.5 L673.6 931.0 L674.9 929.5 L676.3 928.0 L677.8 926.4 L679.2 924.8 L680.5 923.0 L681.6 921.1 L682.7 919.0 L683.6 916.9 L684.5 914.6 L685.3 912.2 L686.1 909.6 L686.9 907.1 L687.6 904.5 L688.4 902.0 L689.2 899.4 L689.8 896.5 L690.3 893.4 L690.7 889.9 L690.9 886.0 L691.1 882.2 L691.2 878.4 L691.1 874.6 L691.0 870.7 L690.9 868.0 L690.8 866.4 L690.6 865.9 L690.5 866.5 L690.3 866.4 L690.0 865.7 L689.5 864.3 L689.0 862.3 L688.5 860.3 L687.8 858.4 L687.1 856.5 L686.4 854.7 L685.6 852.8 L684.8 850.6 L684.1 848.2 L683.3 845.7 L682.7 843.1 L682.2 840.6 L681.8 838.0 L681.5 835.5 L681.4 832.9 L681.5 830.4 L681.7 827.8 L682.1 825.3 L682.4 822.7 L682.8 820.2 L683.0 817.6 L683.3 815.1 L683.4 812.6 L683.3 810.2 L683.1 807.8 L682.7 805.5 L682.2 803.2 L681.7 800.9 L681.0 798.7 L680.2 796.4 L679.4 794.2 L678.5 792.2 L677.6 790.2 L676.5 788.5 L675.5 786.7 L674.3 785.1 L673.1 783.5 L671.8 782.0 L670.4 780.5 L668.7 779.1 L666.9 777.8 L664.8 776.5 L662.7 775.3 L660.4 774.1 L657.9 773.0 L655.4 772.0 L652.8 771.2 L650.3 770.5 L647.7 769.9 L645.2 769.5 L642.6 769.2 L640.1 768.8 L637.5 768.4 L635.0 768.0 L632.4 767.5 L629.9 767.0 L627.4 766.3 L624.8 765.5 L622.3 764.7 L619.7 763.8 L617.2 762.8 L614.6 761.8 L611.7 760.8 L608.6 759.8 L605.0 758.8 L601.2 757.7 L597.4 756.7 L593.6 755.7 L589.8 754.7 L585.9 753.7 L582.4 752.8 L579.2 752.0 L576.4 751.4 L573.8 750.9 L570.7 750.4 L566.9 749.9 L562.5 749.5 L557.5 749.2 L552.5 748.9 L547.5 748.8 L542.5 748.8 L537.5 748.8 L532.9 748.8 L528.6 748.6 L524.8 748.2 L521.2 747.8 L518.1 747.1 L515.4 746.4 L513.0 745.5 L511.0 744.5 L509.3 743.5 L507.9 742.5 L506.9 741.5 L506.1 740.5 L505.7 739.0 L505.6 737.0Z" fill="#3e9c35" stroke="#3e9c35" stroke-width="0.6"/>
<path d="M480.3 942.9 L481.7 942.6 L483.4 942.3 L485.2 942.3 L487.3 942.4 L489.6 942.6 L491.8 943.0 L494.0 943.4 L496.1 944.0 L498.1 944.6 L500.0 945.3 L501.6 946.2 L503.1 947.1 L504.4 948.1 L505.3 949.2 L506.0 950.3 L506.3 951.5 L506.3 952.8 L506.0 954.0 L505.3 955.1 L504.4 956.1 L503.1 957.0 L501.6 957.6 L500.0 957.9 L498.1 957.9 L496.1 957.7 L494.1 957.2 L492.2 956.5 L490.3 955.6 L488.6 954.4 L486.8 953.2 L485.2 952.0 L483.6 950.8 L482.1 949.5 L480.8 948.3 L479.9 947.1 L479.2 946.1 L478.8 945.0 L478.9 944.2 L479.4 943.5Z" fill="#3a8a68" stroke="#3a8a68" stroke-width="0.6"/>
<path d="M573.8 764.4 L576.4 764.8 L578.9 765.4 L581.5 766.3 L584.0 767.3 L586.6 768.6 L589.1 769.7 L591.7 770.6 L594.2 771.3 L596.8 771.8 L599.3 772.2 L601.9 772.7 L604.4 773.1 L607.0 773.5 L609.4 773.9 L611.7 774.2 L613.8 774.6 L615.9 775.0 L617.9 775.6 L620.0 776.3 L622.0 777.1 L624.0 778.1 L626.1 779.0 L628.1 779.6 L630.2 780.0 L632.2 780.3 L634.1 780.6 L635.9 781.0 L637.5 781.4 L639.1 782.0 L640.6 782.5 L642.1 783.2 L643.7 783.9 L645.2 784.6 L646.7 785.4 L648.3 786.2 L649.8 786.9 L651.3 787.7 L652.8 788.5 L654.4 789.4 L655.9 790.4 L657.4 791.4 L658.6 792.5 L659.5 793.6 L660.1 794.8 L660.4 796.1 L660.7 797.6 L661.3 799.2 L661.9 801.1 L662.7 803.1 L663.4 805.3 L664.0 807.6 L664.6 810.0 L665.1 812.5 L665.4 814.8 L665.5 816.9 L665.5 818.7 L665.2 820.2 L664.7 821.6 L663.9 822.9 L662.9 824.0 L661.6 825.0 L660.3 826.0 L658.9 826.9 L657.4 827.7 L655.9 828.5 L654.6 829.3 L653.4 830.2 L652.5 831.2 L651.7 832.2 L651.4 833.1 L651.5 834.0 L652.1 834.9 L653.1 835.6 L654.3 836.4 L655.7 837.1 L657.3 837.9 L659.1 838.7 L660.7 839.7 L662.1 841.0 L663.3 842.5 L664.3 844.3 L665.5 845.9 L666.7 847.5 L668.1 848.9 L669.7 850.1 L671.2 851.4 L672.7 852.7 L674.3 854.0 L675.8 855.2 L677.1 856.7 L678.3 858.4 L679.2 860.2 L680.0 862.3 L680.6 864.4 L681.1 866.7 L681.5 869.0 L681.8 871.5 L681.9 874.0 L681.9 876.5 L681.8 879.0 L681.5 881.6 L681.3 884.1 L681.1 886.7 L680.9 889.2 L680.8 891.8 L680.6 894.2 L680.2 896.5 L679.7 898.6 L679.0 900.7 L678.3 902.7 L677.5 904.6 L676.5 906.4 L675.5 908.2 L674.6 910.0 L673.7 911.8 L672.8 913.6 L672.1 915.3 L671.2 917.1 L670.2 918.9 L669.0 920.7 L667.8 922.5 L666.5 924.1 L665.4 925.7 L664.3 927.1 L663.3 928.3 L662.3 929.8 L661.4 931.5 L660.6 933.3 L659.9 935.4 L659.0 937.4 L658.1 939.4 L657.2 941.5 L656.2 943.5 L655.1 945.5 L653.9 947.6 L652.7 949.6 L651.4 951.7 L650.1 953.6 L648.7 955.4 L647.2 957.0 L645.7 958.5 L644.0 960.1 L642.3 961.6 L640.4 963.1 L638.3 964.7 L636.3 965.9 L634.2 967.0 L632.2 967.7 L630.2 968.2 L628.0 968.7 L625.7 969.1 L623.3 969.4 L620.7 969.6 L618.3 970.0 L616.0 970.3 L613.8 970.8 L611.8 971.3 L609.8 971.6 L607.7 971.7 L605.7 971.7 L603.6 971.4 L601.5 971.0 L599.2 970.3 L596.8 969.5 L594.2 968.5 L591.9 967.7 L589.9 967.0 L588.1 966.6 L586.6 966.3 L585.0 965.9 L583.5 965.4 L582.0 964.8 L580.5 964.0 L579.2 963.1 L578.2 961.9 L577.4 960.6 L576.9 959.1 L576.6 957.4 L576.6 955.6 L576.9 953.7 L577.4 951.7 L577.6 949.8 L577.5 948.0 L577.0 946.3 L576.2 944.8 L575.5 943.3 L574.7 941.7 L574.0 940.2 L573.2 938.7 L572.5 937.1 L571.8 935.6 L571.3 934.1 L570.8 932.5 L570.4 931.8 L570.1 931.8 L570.0 932.5 L570.0 934.1 L569.8 935.1 L569.3 935.6 L568.7 935.6 L567.8 935.1 L566.9 934.3 L566.0 933.3 L565.1 932.0 L564.2 930.5 L563.6 929.0 L563.3 927.4 L563.2 925.9 L563.5 924.4 L563.8 922.7 L564.1 920.8 L564.5 918.7 L564.8 916.4 L564.9 914.2 L564.7 912.2 L564.3 910.2 L563.5 908.5 L562.5 906.7 L561.4 904.9 L560.1 903.1 L558.5 901.3 L557.0 899.8 L555.5 898.5 L554.0 897.5 L552.5 896.7 L550.8 896.0 L549.0 895.2 L547.1 894.4 L545.1 893.7 L543.0 892.8 L540.9 892.0 L538.9 891.0 L536.9 890.0 L534.8 889.0 L532.6 888.1 L530.4 887.3 L528.1 886.5 L525.8 886.0 L523.5 885.7 L521.2 885.6 L518.9 885.7 L516.7 886.0 L514.5 886.3 L512.4 886.9 L510.4 887.5 L508.3 888.2 L506.3 889.1 L504.2 890.0 L502.2 891.0 L500.2 891.9 L498.1 892.7 L496.1 893.3 L494.0 893.8 L492.0 894.3 L490.0 894.8 L487.9 895.3 L485.9 895.8 L484.0 896.0 L482.4 895.9 L480.9 895.5 L479.6 894.7 L478.4 893.6 L477.3 892.2 L476.2 890.5 L475.2 888.5 L474.0 886.3 L472.6 884.0 L471.0 881.6 L469.2 879.0 L467.7 876.5 L466.4 873.9 L465.4 871.4 L464.6 868.8 L463.8 867.1 L463.1 866.1 L462.3 865.9 L461.5 866.5 L461.0 866.3 L460.8 865.3 L460.8 863.5 L461.0 861.0 L461.3 858.4 L461.5 855.9 L461.8 853.3 L462.0 850.8 L462.4 848.4 L462.9 846.1 L463.6 843.9 L464.3 841.9 L465.0 839.9 L465.7 838.2 L466.3 836.5 L466.8 835.0 L467.0 833.4 L467.0 831.9 L466.8 830.4 L466.3 828.9 L465.9 827.3 L465.8 825.8 L465.9 824.3 L466.1 822.7 L466.6 821.4 L467.2 820.4 L468.0 819.5 L469.1 818.9 L470.6 818.4 L472.6 818.2 L475.2 818.1 L478.2 818.2 L481.3 818.3 L484.4 818.4 L487.4 818.4 L490.5 818.4 L493.4 818.3 L496.2 818.0 L498.9 817.6 L501.4 817.1 L504.0 816.6 L506.5 815.9 L509.1 815.2 L511.6 814.5 L513.9 813.6 L515.8 812.5 L517.4 811.4 L518.6 810.1 L519.8 808.8 L521.0 807.4 L522.1 805.9 L523.1 804.4 L524.0 802.7 L524.8 800.8 L525.4 798.7 L525.9 796.4 L526.6 794.2 L527.5 792.2 L528.6 790.2 L529.9 788.5 L531.1 786.7 L532.4 784.9 L533.7 783.1 L534.9 781.3 L536.2 779.5 L537.5 777.6 L538.8 775.6 L540.0 773.5 L541.6 771.8 L543.4 770.2 L545.4 769.0 L547.7 767.9 L550.6 767.0 L554.1 766.3 L558.2 765.6 L562.9 765.1 L566.5 764.7 L568.8 764.4 L570.0 764.2 L570.0 764.1 L570.6 764.1 L571.9 764.2Z" fill="#8ab516" stroke="#8ab516" stroke-width="0.6"/>
<path d="M573.8 776.2 L576.4 776.0 L578.9 776.0 L581.5 776.2 L584.0 776.7 L586.6 777.5 L589.1 778.1 L591.7 778.5 L594.2 778.6 L596.8 778.6 L599.3 778.7 L601.9 778.8 L604.4 779.0 L607.0 779.3 L609.5 779.7 L612.1 780.2 L614.6 780.8 L617.2 781.6 L619.7 782.3 L622.3 783.1 L624.8 783.9 L627.4 784.6 L629.9 785.5 L632.4 786.5 L635.0 787.7 L637.5 789.0 L640.1 790.4 L642.6 791.9 L645.2 793.6 L647.7 795.3 L649.9 797.2 L651.7 799.1 L653.1 801.1 L654.1 803.1 L654.8 805.2 L655.2 807.2 L655.3 809.2 L655.0 811.3 L654.5 813.2 L653.7 815.0 L652.7 816.6 L651.4 818.2 L650.0 819.5 L648.3 820.6 L646.5 821.6 L644.4 822.4 L642.6 823.1 L640.9 823.9 L639.5 824.7 L638.2 825.4 L637.2 826.4 L636.4 827.5 L635.9 828.9 L635.6 830.4 L635.7 831.9 L636.1 833.3 L636.8 834.6 L637.8 835.9 L639.1 837.1 L640.6 838.2 L642.4 839.3 L644.4 840.3 L646.5 841.4 L648.5 842.6 L650.5 843.8 L652.6 845.0 L654.5 846.3 L656.3 847.6 L657.9 848.9 L659.5 850.1 L661.0 851.5 L662.5 853.1 L664.1 854.7 L665.6 856.5 L667.1 858.4 L668.5 860.3 L669.8 862.3 L671.1 864.3 L672.1 866.6 L673.0 869.3 L673.7 872.2 L674.3 875.4 L674.6 878.8 L674.7 882.4 L674.6 886.0 L674.4 889.9 L673.9 893.4 L673.3 896.5 L672.5 899.4 L671.4 902.0 L670.4 904.4 L669.2 906.7 L668.0 908.8 L666.7 910.9 L665.5 912.9 L664.2 915.0 L662.9 917.0 L661.6 919.0 L660.4 921.1 L659.1 923.1 L657.8 925.2 L656.5 927.2 L655.4 929.2 L654.4 931.3 L653.5 933.3 L652.7 935.4 L651.9 937.4 L651.0 939.4 L650.0 941.5 L649.0 943.5 L647.9 945.5 L646.6 947.4 L645.2 949.2 L643.7 951.0 L642.0 952.7 L640.2 954.4 L638.3 956.0 L636.3 957.5 L634.1 958.9 L631.8 960.0 L629.4 961.0 L626.8 961.7 L624.3 962.4 L621.7 963.0 L619.2 963.5 L616.6 963.8 L614.1 964.0 L611.5 964.0 L609.0 963.8 L606.4 963.5 L603.9 963.0 L601.4 962.4 L598.8 961.7 L596.3 961.0 L593.8 960.1 L591.5 959.2 L589.4 958.3 L587.3 957.3 L585.6 956.1 L584.2 954.9 L583.1 953.4 L582.4 951.9 L581.7 950.2 L581.2 948.3 L580.8 946.2 L580.6 943.9 L580.2 941.6 L579.7 939.3 L579.0 937.0 L578.3 934.7 L577.6 932.4 L576.9 930.1 L576.4 927.8 L575.9 925.5 L575.4 923.2 L575.0 920.8 L574.7 918.3 L574.5 915.7 L574.0 913.4 L573.4 911.4 L572.5 909.6 L571.5 908.1 L570.8 906.9 L570.3 906.2 L570.0 905.8 L570.0 905.8 L569.6 905.4 L568.9 904.6 L567.9 903.5 L566.5 902.0 L565.1 900.5 L563.6 899.1 L562.1 897.8 L560.6 896.5 L558.9 895.3 L557.1 894.1 L555.3 893.0 L553.2 892.0 L551.2 891.1 L549.2 890.2 L547.1 889.3 L545.1 888.6 L542.9 887.7 L540.6 886.9 L538.1 885.9 L535.6 884.9 L533.0 884.1 L530.5 883.4 L527.9 883.0 L525.4 882.7 L522.8 882.6 L520.3 882.6 L517.7 882.7 L515.2 883.0 L512.6 883.5 L510.1 884.4 L507.5 885.6 L505.0 887.2 L502.4 888.6 L499.9 889.9 L497.4 891.0 L494.8 892.0 L492.4 892.9 L490.1 893.7 L487.9 894.3 L485.9 894.8 L484.1 895.0 L482.6 894.7 L481.3 894.1 L480.3 893.0 L479.6 891.9 L479.4 890.6 L479.5 889.2 L480.0 887.7 L480.9 885.9 L482.2 883.9 L483.8 881.6 L485.9 879.0 L487.9 876.5 L490.0 873.9 L492.0 871.4 L494.0 868.8 L495.4 866.7 L496.2 864.9 L496.3 863.6 L495.8 862.6 L495.4 861.7 L495.2 860.7 L495.1 859.7 L495.1 858.7 L495.6 857.8 L496.6 857.0 L498.1 856.4 L500.2 855.9 L502.2 855.2 L504.2 854.3 L506.3 853.2 L508.3 851.9 L510.1 850.5 L511.6 849.0 L512.9 847.3 L513.9 845.6 L514.9 843.7 L515.8 841.8 L516.6 839.8 L517.4 837.8 L518.1 835.7 L518.9 833.7 L519.7 831.7 L520.4 829.6 L521.2 827.6 L521.9 825.5 L522.7 823.5 L523.5 821.5 L524.3 819.4 L525.2 817.4 L526.2 815.4 L527.2 813.3 L528.1 811.3 L529.0 809.2 L529.9 807.2 L530.6 805.2 L531.6 803.1 L532.7 800.9 L534.1 798.7 L535.6 796.4 L536.9 794.2 L538.1 792.2 L539.0 790.2 L539.8 788.5 L540.5 786.7 L541.1 784.9 L541.7 783.1 L542.2 781.3 L543.0 779.8 L544.2 778.5 L545.7 777.5 L547.5 776.7 L549.5 776.2 L551.7 775.8 L554.0 775.6 L556.5 775.6 L559.0 775.7 L561.5 775.8 L563.9 776.0 L566.4 776.2 L568.2 776.4 L569.4 776.5 L570.0 776.6 L570.0 776.6 L570.6 776.5 L571.9 776.4Z" fill="#b0c01c" stroke="#b0c01c" stroke-width="0.6"/>
<path d="M573.8 790.2 L576.4 790.5 L578.7 790.6 L580.9 790.4 L582.9 790.1 L584.7 789.6 L586.2 789.0 L587.5 788.4 L588.5 787.7 L589.2 786.9 L590.3 786.3 L591.7 785.8 L593.5 785.4 L595.5 785.1 L597.7 785.1 L600.0 785.2 L602.4 785.5 L604.9 786.0 L607.5 786.6 L610.0 787.2 L612.6 787.9 L615.1 788.7 L617.5 789.6 L619.8 790.6 L622.0 791.8 L624.0 793.0 L625.9 794.3 L627.7 795.6 L629.4 796.9 L630.9 798.1 L632.4 799.5 L634.0 800.9 L635.5 802.4 L637.0 803.9 L638.2 805.4 L639.1 806.9 L639.7 808.5 L640.0 810.0 L639.8 811.5 L639.3 813.1 L638.4 814.6 L637.2 816.1 L635.8 817.6 L634.2 819.0 L632.6 820.3 L630.8 821.6 L628.8 822.9 L626.7 824.3 L624.3 825.8 L621.7 827.3 L619.6 828.9 L617.8 830.6 L616.4 832.3 L615.4 834.1 L615.1 835.6 L615.4 836.9 L616.5 837.9 L618.3 838.7 L620.0 839.7 L621.7 841.0 L623.3 842.5 L624.8 844.3 L626.5 845.8 L628.2 847.1 L630.2 848.1 L632.2 848.9 L634.2 849.5 L636.3 850.0 L638.3 850.4 L640.4 850.7 L642.4 851.1 L644.4 851.7 L646.5 852.6 L648.5 853.6 L650.4 854.7 L652.2 856.0 L653.9 857.4 L655.4 858.9 L656.8 860.5 L658.1 862.0 L659.2 863.5 L660.2 865.1 L661.4 866.7 L662.8 868.4 L664.4 870.3 L666.2 872.3 L667.5 874.7 L668.3 877.6 L668.5 880.9 L668.3 884.8 L667.8 888.3 L667.2 891.4 L666.3 894.3 L665.3 896.9 L664.2 899.3 L663.1 901.6 L661.9 903.7 L660.6 905.8 L659.2 907.8 L657.7 909.9 L656.0 911.9 L654.2 913.9 L652.5 915.8 L650.9 917.4 L649.3 918.9 L647.7 920.2 L646.3 921.5 L644.9 922.9 L643.5 924.4 L642.3 925.9 L641.3 927.6 L640.7 929.4 L640.4 931.3 L640.4 933.3 L640.2 935.4 L639.8 937.4 L639.2 939.4 L638.4 941.5 L637.5 943.4 L636.3 945.4 L635.0 947.2 L633.5 949.0 L631.8 950.6 L630.0 952.0 L628.1 953.2 L626.1 954.2 L623.9 955.1 L621.6 955.8 L619.2 956.3 L616.6 956.7 L614.2 956.9 L611.7 956.9 L609.4 956.7 L607.1 956.3 L604.9 955.8 L602.7 955.3 L600.6 954.6 L598.5 953.8 L596.6 952.9 L594.7 951.9 L592.8 950.8 L591.0 949.5 L589.4 948.1 L588.0 946.6 L586.8 944.9 L585.8 943.1 L584.9 941.2 L584.1 939.2 L583.5 937.0 L583.0 934.7 L582.5 932.4 L582.0 930.1 L581.5 927.8 L581.0 925.5 L580.3 923.2 L579.6 920.9 L578.7 918.7 L577.6 916.4 L576.7 914.1 L575.8 911.8 L575.0 909.5 L574.2 907.2 L573.4 905.1 L572.7 903.4 L571.9 901.8 L571.1 900.6 L570.6 899.6 L570.2 899.0 L570.0 898.6 L570.0 898.6 L569.8 898.4 L569.3 897.9 L568.7 897.1 L567.8 896.1 L566.7 895.0 L565.5 893.7 L564.1 892.3 L562.6 890.7 L560.9 889.3 L559.2 887.9 L557.3 886.5 L555.2 885.3 L553.2 884.1 L551.1 883.1 L549.1 882.2 L547.1 881.4 L545.0 880.7 L543.0 880.1 L540.9 879.5 L538.9 879.0 L536.9 878.5 L534.8 878.0 L532.8 877.5 L530.7 877.0 L529.0 876.3 L527.4 875.4 L526.2 874.3 L525.1 873.0 L524.4 871.7 L524.1 870.3 L524.0 868.8 L524.2 867.3 L524.3 865.9 L524.2 864.7 L523.9 863.6 L523.4 862.6 L523.1 861.6 L523.1 860.3 L523.4 858.9 L523.9 857.4 L524.5 855.8 L525.3 854.0 L526.2 852.1 L527.2 850.0 L528.1 847.8 L529.0 845.6 L529.9 843.1 L530.6 840.6 L531.4 838.3 L532.3 836.3 L533.3 834.5 L534.3 832.9 L535.2 831.3 L536.0 829.5 L536.6 827.6 L537.1 825.5 L537.7 823.3 L538.3 820.7 L539.0 817.9 L539.8 814.8 L540.4 812.0 L540.9 809.5 L541.3 807.2 L541.6 805.2 L542.1 803.2 L543.0 801.5 L544.3 799.8 L545.8 798.3 L547.2 796.7 L548.5 795.2 L549.6 793.7 L550.6 792.2 L551.9 790.9 L553.4 790.1 L555.2 789.5 L557.3 789.2 L559.4 789.1 L561.6 789.1 L563.9 789.2 L566.4 789.5 L568.2 789.7 L569.4 789.8 L570.0 789.9 L570.0 789.9 L570.6 789.9 L571.9 790.1Z" fill="#dcc820" stroke="#dcc820" stroke-width="0.6"/>
<path d="M573.8 809.5 L576.4 809.0 L578.9 808.8 L581.5 808.9 L584.0 809.4 L586.6 810.1 L589.0 810.6 L591.3 810.9 L593.5 810.9 L595.5 810.6 L597.4 810.2 L599.2 809.6 L600.8 808.7 L602.4 807.7 L604.0 806.9 L605.8 806.4 L607.7 806.2 L609.8 806.2 L611.8 806.4 L613.8 806.9 L615.9 807.7 L617.9 808.7 L619.7 809.9 L621.2 811.1 L622.5 812.5 L623.5 814.1 L624.0 815.6 L624.0 817.1 L623.5 818.7 L622.5 820.2 L621.4 821.8 L620.1 823.4 L618.7 825.2 L617.2 826.9 L615.9 828.7 L614.9 830.3 L614.1 831.9 L613.6 833.4 L613.5 835.0 L613.9 836.5 L614.7 838.0 L616.0 839.6 L617.3 841.0 L618.6 842.4 L619.8 843.8 L621.1 845.0 L622.3 846.4 L623.5 847.8 L624.5 849.3 L625.6 850.8 L626.6 852.2 L627.6 853.5 L628.6 854.6 L629.6 855.6 L630.7 857.0 L631.7 858.8 L632.7 861.0 L633.7 863.5 L635.0 865.5 L636.5 866.9 L638.3 867.8 L640.4 868.1 L642.6 868.5 L645.0 869.0 L647.6 869.5 L650.4 870.2 L652.8 871.2 L654.9 872.7 L656.5 874.6 L657.8 876.9 L658.8 879.2 L659.6 881.6 L660.1 884.1 L660.4 886.7 L660.4 889.2 L660.1 891.6 L659.6 893.9 L658.8 896.2 L657.9 898.3 L656.7 900.2 L655.4 902.0 L653.9 903.5 L652.2 905.0 L650.4 906.4 L648.5 907.7 L646.5 909.0 L644.4 910.1 L642.4 911.1 L640.4 912.0 L638.3 912.8 L636.3 913.7 L634.4 914.7 L632.6 915.9 L630.8 917.1 L629.3 918.5 L628.0 920.1 L627.0 921.7 L626.2 923.5 L625.6 925.5 L625.1 927.6 L624.7 930.0 L624.4 932.5 L624.2 935.0 L623.9 937.3 L623.7 939.4 L623.4 941.5 L623.0 943.1 L622.3 944.4 L621.5 945.3 L620.5 945.8 L619.2 946.1 L617.7 946.2 L615.9 946.2 L613.8 945.9 L611.8 945.5 L609.8 944.8 L607.7 944.0 L605.7 943.0 L603.8 941.9 L602.0 940.6 L600.3 939.2 L598.8 937.6 L597.4 935.9 L596.1 934.0 L595.0 931.9 L594.0 929.6 L593.1 927.3 L592.3 924.8 L591.7 922.4 L591.2 919.8 L590.7 917.4 L590.3 915.3 L590.0 913.3 L589.8 911.5 L589.2 909.6 L588.3 907.6 L587.1 905.4 L585.5 903.1 L584.0 900.9 L582.3 898.9 L580.6 897.0 L578.8 895.2 L577.1 893.6 L575.4 892.2 L573.8 891.0 L572.3 890.0 L571.1 889.2 L570.4 888.7 L570.0 888.5 L570.0 888.5 L569.8 888.2 L569.3 887.7 L568.7 886.9 L567.8 885.9 L566.7 884.8 L565.5 883.5 L564.1 882.1 L562.6 880.5 L561.1 879.1 L559.5 877.9 L558.0 876.7 L556.5 875.7 L555.0 874.8 L553.4 874.0 L551.9 873.4 L550.4 872.9 L548.8 872.3 L547.3 871.7 L545.8 871.0 L544.3 870.2 L543.0 869.4 L542.0 868.5 L541.2 867.5 L540.7 866.5 L540.3 865.4 L540.0 864.2 L539.9 862.8 L539.9 861.4 L539.9 859.8 L539.9 858.0 L539.9 856.1 L539.9 854.1 L540.0 852.1 L540.3 850.0 L540.7 848.0 L541.2 845.9 L541.9 843.8 L542.8 841.5 L543.9 839.1 L545.1 836.5 L546.4 834.2 L547.5 832.2 L548.6 830.4 L549.6 828.9 L550.6 827.2 L551.5 825.4 L552.3 823.5 L553.0 821.5 L553.9 819.7 L554.8 818.2 L555.7 816.9 L556.7 815.9 L557.8 814.8 L558.8 813.8 L559.8 812.8 L560.8 811.8 L562.1 811.0 L563.5 810.5 L565.2 810.3 L567.1 810.3 L568.6 810.3 L569.5 810.3 L570.0 810.3 L570.0 810.3 L570.6 810.1 L571.9 809.9Z" fill="#f8cc23" stroke="#f8cc23" stroke-width="0.6"/>
<path d="M596.8 847.5 L598.3 846.4 L599.7 845.8 L601.0 845.6 L602.1 845.7 L603.1 846.2 L604.0 847.2 L604.6 848.7 L605.0 850.8 L605.3 853.3 L605.2 855.4 L604.9 856.9 L604.2 857.9 L603.1 858.4 L602.1 858.6 L600.9 858.3 L599.7 857.7 L598.4 856.6 L597.3 855.5 L596.4 854.2 L595.7 852.8 L595.2 851.3 L595.2 849.9 L595.7 848.6Z" fill="#dcc820" stroke="#dcc820" stroke-width="0.6"/>
<path d="M571.9 865.7 L573.2 865.9 L574.6 866.4 L576.1 867.0 L577.8 867.9 L579.6 868.9 L581.4 869.7 L583.3 870.3 L585.3 870.8 L587.3 871.0 L589.4 871.2 L591.4 871.2 L593.5 871.0 L595.5 870.8 L597.4 870.7 L599.2 870.9 L600.8 871.2 L602.4 871.7 L603.9 872.4 L605.4 873.4 L607.0 874.6 L608.5 876.1 L610.1 877.4 L611.9 878.7 L613.8 879.8 L615.9 880.8 L617.9 881.7 L620.0 882.5 L622.0 883.1 L624.0 883.6 L626.1 884.1 L628.1 884.4 L630.2 884.8 L632.2 885.0 L634.2 885.4 L636.3 885.9 L638.3 886.5 L640.4 887.3 L642.3 888.2 L644.2 889.2 L646.1 890.4 L647.9 891.6 L649.2 892.8 L650.1 894.0 L650.5 895.1 L650.5 896.1 L650.2 897.1 L649.6 897.9 L648.6 898.8 L647.4 899.5 L645.9 900.3 L644.2 901.1 L642.4 901.8 L640.4 902.6 L638.3 903.3 L636.3 903.9 L634.2 904.5 L632.2 905.0 L630.3 905.5 L628.5 906.0 L626.8 906.5 L625.3 907.1 L623.8 907.8 L622.4 908.7 L621.1 909.7 L619.8 911.0 L618.4 912.1 L616.9 913.0 L615.2 913.7 L613.5 914.2 L611.8 914.5 L610.3 914.6 L608.9 914.6 L607.6 914.3 L606.4 913.7 L605.2 912.9 L604.2 911.6 L603.1 910.1 L602.2 908.5 L601.3 906.7 L600.5 904.8 L599.7 902.7 L598.9 900.9 L598.2 899.2 L597.4 897.8 L596.6 896.5 L595.6 895.1 L594.3 893.5 L592.8 891.9 L591.0 890.1 L589.2 888.4 L587.3 886.7 L585.3 885.1 L583.3 883.6 L581.3 882.1 L579.4 880.5 L577.5 879.0 L575.7 877.5 L574.2 876.2 L572.9 875.2 L571.9 874.4 L571.1 873.9 L570.4 873.3 L569.7 872.7 L569.0 872.0 L568.4 871.2 L568.1 870.4 L568.1 869.4 L568.4 868.3 L569.0 867.1 L569.8 866.3 L570.8 865.8Z" fill="#ffae17" stroke="#ffae17" stroke-width="0.6"/>
<rect x="340" y="660.1" width="420" height="2.6" fill="#fff"/>
<rect x="340" y="1070.0" width="420" height="3" fill="#fff"/>
<path d="M526.7 812.3 L518.5 815.4 L516.5 812.3 L513.4 815.4 L510.4 812.3 L508.8 806.2 L510.4 800.1 L513.4 793.9 L518.5 788.8 L522.6 785.8 L522.6 778.6 L525.6 776.6 L523.6 771.5 L527.7 765.4 L526.7 761.3 L529.7 763.4 L531.8 758.3 L535.8 760.3 L537.9 755.2 L540.9 758.3 L544.5 753.2 L544.0 758.3 L547.1 756.2 L549.1 760.3 L551.1 758.3 L560.3 755.2 L570.0 753.7 L570.0 754.7 L573.1 757.2 L576.1 754.7 L582.2 753.7 L587.3 761.3 L590.4 760.3 L593.5 764.4 L595.5 762.3 L598.5 766.9 L602.6 764.9 L610.8 767.4 L614.9 767.9 L616.4 763.9 L619.4 763.4 L620.5 764.9 L618.9 766.9 L620.0 770.0 L623.0 773.5 L625.6 775.6 L630.2 772.5 L639.3 774.1 L647.5 776.6 L648.0 780.7 L651.6 778.6 L652.6 777.1 L654.6 781.7 L657.7 779.2 L661.8 780.2 L665.3 783.7 L666.9 787.8 L665.8 791.9 L661.8 792.4 L664.8 795.0 L665.8 801.1 L667.9 806.2 L670.4 812.3 L673.0 821.0 L666.9 823.5 L660.7 825.0 L657.7 822.5 L658.2 826.1 L651.6 826.6 L641.4 827.6 L640.4 829.1 L646.5 829.6 L652.6 832.2 L659.7 831.7 L661.8 831.2 L665.8 836.8 L672.0 839.8 L677.1 842.9 L682.2 850.0 L688.3 854.6 L686.2 858.2 L687.3 863.3 L688.8 869.4 L689.3 875.0 L688.8 875.2 L686.7 887.4 L688.3 892.5 L688.8 897.6 L685.2 902.7 L682.2 907.8 L679.1 910.9 L680.1 915.0 L682.7 916.0 L682.2 920.6 L676.0 923.6 L673.0 924.1 L672.5 920.1 L671.4 925.2 L666.9 930.3 L665.8 936.4 L662.8 945.5 L658.7 946.6 L655.6 949.6 L657.7 953.7 L656.7 956.8 L652.6 960.8 L649.5 962.9 L644.4 965.9 L636.3 970.0 L629.1 974.1 L626.6 970.0 L625.1 973.1 L618.9 971.0 L610.8 975.1 L605.7 978.2 L592.4 977.2 L586.3 971.0 L584.3 974.1 L576.1 974.6 L570.0 971.0 L568.0 967.0 L567.5 961.9 L573.1 959.8 L576.1 954.7 L574.6 949.6 L577.1 946.6 L574.1 939.4 L570.0 933.3 L565.9 936.4 L568.0 931.3 L571.0 926.2 L570.0 918.0 L567.4 915.0 L565.4 910.9 L562.3 907.8 L557.3 903.7 L551.1 899.7 L546.0 896.6 L542.0 895.6 L537.9 891.5 L540.9 896.6 L545.5 906.8 L540.9 900.7 L536.9 900.2 L531.8 902.7 L528.7 909.9 L522.6 909.9 L521.6 913.9 L518.5 915.0 L520.5 922.1 L522.6 926.2 L524.6 930.3 L522.6 934.3 L518.5 932.3 L515.4 928.2 L513.4 926.2 L510.4 931.3 L505.3 930.3 L502.2 934.3 L497.1 930.3 L493.0 930.3 L487.9 927.2 L481.8 924.1 L477.7 920.1 L473.6 912.9 L470.6 903.7 L467.5 895.6 L465.5 885.4 L464.5 878.3 L461.4 881.3 L455.3 886.4 L451.2 887.4 L451.1 885.4 L452.1 879.3 L451.1 873.2 L450.6 868.1 L447.5 867.1 L450.1 863.0 L453.1 857.9 L456.2 852.8 L451.6 849.7 L454.1 847.7 L456.2 844.6 L452.1 841.6 L456.2 840.5 L457.7 835.4 L456.2 829.3 L452.1 825.3 L447.0 823.7 L440.9 823.7 L437.8 826.3 L434.8 830.4 L431.7 827.3 L433.7 824.2 L437.8 823.2 L436.8 820.2 L433.7 817.1 L429.7 815.6 L425.6 814.0 L423.5 815.1 L421.5 810.0 L419.5 803.8 L415.4 798.7 L414.4 790.6 L420.5 798.7 L424.6 800.8 L427.6 807.9 L434.8 813.5 L436.8 810.0 L442.9 810.5 L452.1 813.0 L461.3 819.1 L470.4 825.3 L473.0 829.3 L475.5 837.5 L476.1 843.6 L473.5 848.7 L476.6 848.7 L479.6 845.6 L482.7 847.7 L481.7 852.8 L479.6 854.8 L483.7 852.3 L485.2 853.8 L483.7 857.4 L480.1 858.7 L486.8 856.9 L488.8 852.8 L492.9 852.3 L497.0 849.7 L501.0 847.7 L505.1 846.7 L507.2 843.6 L511.2 846.7 L516.3 846.7 L514.3 844.6 L513.3 838.5 L516.3 833.4 L519.4 825.3 L522.4 817.1 L526.7 812.3 M497.5 819.1 L501.0 817.1 L504.1 820.2 L506.1 820.2 L510.2 824.2 L509.7 831.4 L507.2 835.4 L504.1 833.4 L501.5 827.3 L498.0 823.2 L497.5 819.1 M487.3 840.0 L489.8 844.6 L491.9 846.7 L492.9 843.1 L497.0 841.6 L501.0 840.5 L497.0 842.6 L491.9 843.6 L487.3 840.0 M440.9 827.3 L446.0 826.3 L452.1 828.3 L455.2 833.4 L454.1 837.5 L452.1 834.4 L448.0 831.4 L443.9 830.4 L440.9 827.3 M445.0 831.4 L448.0 835.4 L452.1 837.5 L450.1 839.5 L446.0 838.5 L445.0 834.4 L445.0 831.4 M440.4 834.9 L442.1 835.4 L442.4 840.0 L440.7 840.5 L440.4 834.9 M415.9 778.4 L420.0 777.8 L422.0 785.5 L419.5 789.6 L416.9 785.5 L415.9 778.4 M407.7 779.4 L408.8 783.5 L408.3 785.5 L407.4 782.4 L407.7 779.4 M413.4 791.6 L416.9 795.7 L415.9 801.8 L413.9 798.7 L413.4 791.6 M443.9 876.2 L447.0 875.7 L448.0 882.3 L446.5 887.4 L445.0 882.3 L443.9 876.2 M422.5 814.0 L425.6 813.0 L427.6 817.1 L425.6 819.1 L422.5 817.1 L422.5 814.0 M418.5 805.9 L420.5 807.9 L421.5 812.0 L419.5 810.0 L418.5 805.9 M528.7 922.1 L530.7 920.6 L532.8 923.1 L532.3 926.2 L530.2 927.2 L528.7 925.2 L528.7 922.1 M532.3 908.3 L533.3 909.9 L535.8 912.9 L534.3 913.4 L532.3 908.3 M444.1 876.2 L447.1 875.2 L447.6 881.3 L447.1 887.4 L445.1 885.4 L444.1 876.2 M464.0 896.4 L465.8 896.8 L466.2 898.8 L464.4 898.6 L464.0 896.4 M465.0 901.5 L466.8 901.9 L467.2 903.9 L465.4 903.7 L465.0 901.5 M466.0 905.6 L467.8 906.0 L468.2 908.0 L466.4 907.8 L466.0 905.6 M468.5 911.7 L470.4 912.1 L470.8 914.1 L469.0 913.9 L468.5 911.7 M470.1 915.8 L471.9 916.2 L472.3 918.2 L470.5 918.0 L470.1 915.8 M471.1 920.9 L472.9 921.3 L473.3 923.3 L471.5 923.1 L471.1 920.9 M505.3 928.2 L508.3 926.2 L511.4 928.2 L513.4 930.3 L510.4 932.3 L507.3 931.3 L505.3 928.2 M410.0 768.0 L410.6 768.4 M407.4 788.3 L408.1 788.8 M406.9 792.9 L407.5 793.3 M434.5 835.8 L435.1 836.2 M437.0 835.8 L437.6 836.2 M440.1 806.2 L440.7 806.6 M465.4 700.2 L466.6 701.0 M424.4 745.6 L425.6 746.4 M693.1 871.9 L693.7 872.3 M690.0 882.1 L690.6 882.5 M692.6 897.9 L693.2 898.3 M585.0 991.7 L585.6 992.1 M584.4 991.2 L585.6 992.0 M590.4 995.6 L591.6 996.4 M515.7 780.0 L516.3 780.4 M520.8 769.3 L521.4 769.7 M520.6 769.5 L521.2 769.9 M514.9 778.6 L517.0 778.1 L518.0 782.2 L516.0 781.2 L514.9 778.6 M691.3 891.5 L692.9 891.0 L693.6 892.5 L692.3 893.8 L691.1 892.7 L691.3 891.5" fill="none" stroke="#000" stroke-width="1.0" stroke-linejoin="round"/>
<g fill="none" stroke="#b0b0b0" stroke-width="1.9"><ellipse cx="550.2" cy="866.3" rx="29.1" ry="28.6"/><ellipse cx="550.2" cy="866.3" rx="58.3" ry="57.2"/><ellipse cx="550.2" cy="866.3" rx="87.8" ry="86.1"/><ellipse cx="550.2" cy="866.3" rx="117.7" ry="115.4"/><ellipse cx="550.2" cy="866.3" rx="147.9" ry="145.0"/><ellipse cx="550.2" cy="866.3" rx="178.8" ry="175.3"/><line x1="360.3" y1="758.8" x2="740.1" y2="973.8"/><line x1="550.2" y1="651.3" x2="550.2" y2="1081.3"/><line x1="740.1" y1="758.8" x2="360.3" y2="973.8"/></g>
</g>
<circle cx="550.2" cy="866.3" r="206.0" fill="none" stroke="#000" stroke-width="1.6"/>
<g clip-path="url(#c2)">
<rect x="340" y="1151.3" width="420" height="420" fill="#6d85ff"/>
<path d="M437.2 1191.5 L441.8 1192.5 L448.0 1192.5 L456.0 1191.5 L461.0 1192.8 L463.0 1196.2 L467.5 1198.0 L474.5 1198.0 L480.5 1198.8 L485.5 1200.2 L488.5 1203.2 L489.5 1207.8 L493.0 1210.5 L499.0 1211.5 L502.5 1214.5 L503.5 1219.5 L506.5 1223.0 L511.5 1225.0 L515.5 1227.0 L518.5 1229.0 L522.0 1231.0 L526.0 1233.0 L529.0 1235.2 L531.0 1237.8 L530.2 1241.8 L526.5 1247.4 L524.6 1257.8 L524.6 1273.1 L523.9 1281.3 L522.3 1282.3 L520.0 1284.1 L517.0 1286.6 L514.4 1289.7 L512.4 1293.3 L511.1 1296.6 L510.6 1299.6 L511.1 1302.2 L512.6 1304.2 L516.2 1305.3 L521.8 1305.3 L536.0 1294.4 L558.7 1272.8 L583.0 1262.0 L609.0 1262.0 L624.0 1260.5 L628.0 1257.5 L632.0 1255.5 L636.0 1254.5 L640.0 1253.0 L644.0 1251.0 L647.0 1248.5 L649.0 1245.5 L652.0 1242.0 L656.0 1238.0 L658.5 1233.5 L659.5 1228.5 L659.5 1222.0 L658.5 1214.0 L657.0 1207.0 L655.0 1201.0 L653.0 1196.0 L651.0 1192.0 L647.0 1189.5 L641.0 1188.5 L636.0 1185.5 L632.0 1180.5 L629.5 1175.8 L628.5 1171.2 L631.0 1161.8 L637.0 1147.2 L585.0 1140.0 L475.0 1140.0 L423.8 1152.8 L431.2 1178.2Z" fill="#92a4ff" stroke="#92a4ff" stroke-width="0.6"/>
<path d="M644.3 1251.3 L641.0 1254.0 L641.9 1256.3 L647.0 1258.4 L651.3 1261.7 L654.9 1266.3 L659.2 1269.8 L664.3 1272.4 L668.1 1275.4 L670.7 1279.0 L672.5 1282.6 L673.5 1286.1 L674.8 1290.2 L676.3 1294.8 L676.5 1299.4 L675.5 1304.0 L675.3 1309.1 L675.8 1314.7 L675.3 1318.3 L673.7 1319.8 L673.2 1319.4 L673.7 1317.1 L675.5 1319.5 L678.5 1326.5 L682.5 1332.5 L687.5 1337.5 L692.5 1341.0 L697.5 1343.0 L701.8 1348.0 L705.2 1356.0 L707.4 1365.0 L708.0 1375.0 L708.3 1381.5 L708.1 1384.5 L705.5 1389.5 L700.5 1396.5 L695.0 1403.5 L689.0 1410.5 L684.5 1416.5 L681.5 1421.5 L677.5 1426.0 L672.5 1430.0 L667.5 1436.0 L662.5 1444.0 L657.5 1451.0 L652.5 1457.0 L646.0 1463.0 L638.0 1469.0 L628.0 1474.0 L616.0 1478.0 L605.0 1482.5 L595.0 1487.5 L585.0 1491.5 L575.0 1494.5 L568.5 1498.0 L565.5 1502.0 L560.5 1505.5 L553.5 1508.5 L545.0 1510.5 L535.0 1511.5 L527.0 1514.0 L521.0 1518.0 L517.5 1520.5 L516.5 1521.5 L512.0 1523.5 L504.0 1526.5 L495.0 1527.0 L485.0 1525.0 L473.0 1523.0 L459.0 1521.0 L450.0 1516.5 L446.0 1509.5 L441.5 1503.5 L436.5 1498.5 L433.0 1492.0 L431.0 1484.0 L430.0 1475.0 L430.0 1465.0 L430.0 1455.0 L430.0 1445.0 L430.2 1435.0 L430.8 1425.0 L431.2 1415.0 L431.8 1405.0 L433.0 1395.0 L435.0 1385.0 L437.0 1377.5 L439.0 1372.5 L441.0 1366.0 L443.0 1358.0 L442.0 1366.8 L438.0 1392.2 L437.0 1398.8 L439.0 1386.2 L441.0 1375.0 L443.0 1365.0 L445.0 1356.5 L447.0 1349.5 L449.0 1343.5 L451.0 1338.5 L452.5 1334.5 L453.5 1331.5 L455.5 1333.0 L458.5 1339.0 L461.0 1346.0 L463.0 1354.0 L468.0 1356.5 L476.0 1353.5 L485.0 1352.0 L495.0 1352.0 L504.0 1349.5 L512.0 1344.5 L520.0 1344.0 L528.0 1348.0 L536.5 1352.8 L545.5 1358.4 L568.0 1336.4 L604.0 1286.8 L628.0 1259.0 L640.0 1253.0Z" fill="#92a4ff" stroke="#92a4ff" stroke-width="0.6"/>
<path d="M531.2 1405.0 L533.8 1415.0 L535.5 1425.0 L536.5 1435.0 L537.8 1445.0 L539.2 1455.0 L541.5 1465.0 L544.5 1475.0 L547.2 1485.0 L549.8 1495.0 L550.8 1503.2 L550.2 1509.8 L551.2 1511.2 L553.8 1507.8 L556.2 1503.5 L558.8 1498.5 L560.5 1493.5 L561.5 1488.5 L564.0 1484.5 L568.0 1481.5 L569.5 1476.0 L568.5 1468.0 L570.0 1458.0 L574.0 1446.0 L574.5 1435.0 L571.5 1425.0 L569.0 1416.0 L567.0 1408.0 L564.0 1403.0 L560.0 1401.0 L555.0 1399.0 L549.0 1397.0 L544.5 1394.0 L541.5 1390.0 L538.0 1390.0 L534.0 1394.0 L531.5 1397.0 L530.5 1399.0Z" fill="#6d85ff" stroke="#6d85ff" stroke-width="0.6"/>
<path d="M637.2 1189.4 L638.8 1189.4 L639.6 1190.2 L639.6 1191.8 L638.8 1192.6 L637.2 1192.6 L636.4 1191.8 L636.4 1190.2Z" fill="#92a4ff" stroke="#92a4ff" stroke-width="0.6"/>
<path d="M661.9 1210.2 L664.1 1210.2 L665.2 1211.6 L665.2 1214.4 L664.1 1215.8 L661.9 1215.8 L660.8 1214.4 L660.8 1211.6Z" fill="#92a4ff" stroke="#92a4ff" stroke-width="0.6"/>
<path d="M684.9 1213.8 L687.1 1213.8 L688.2 1214.9 L688.2 1217.1 L687.1 1218.2 L684.9 1218.2 L683.8 1217.1 L683.8 1214.9Z" fill="#92a4ff" stroke="#92a4ff" stroke-width="0.6"/>
<path d="M696.1 1224.2 L697.9 1224.2 L698.8 1225.1 L698.8 1226.9 L697.9 1227.8 L696.1 1227.8 L695.2 1226.9 L695.2 1225.1Z" fill="#92a4ff" stroke="#92a4ff" stroke-width="0.6"/>
<path d="M653.3 1189.0 L654.7 1189.0 L655.4 1190.5 L655.4 1193.5 L654.7 1195.0 L653.3 1195.0 L652.6 1193.5 L652.6 1190.5Z" fill="#92a4ff" stroke="#92a4ff" stroke-width="0.6"/>
<path d="M672.5 1206.0 L675.5 1206.0 L677.0 1207.0 L677.0 1209.0 L675.5 1210.0 L672.5 1210.0 L671.0 1209.0 L671.0 1207.0Z" fill="#92a4ff" stroke="#92a4ff" stroke-width="0.6"/>
<path d="M412.2 1504.0 L413.8 1504.0 L414.6 1505.0 L414.6 1507.0 L413.8 1508.0 L412.2 1508.0 L411.4 1507.0 L411.4 1505.0Z" fill="#92a4ff" stroke="#92a4ff" stroke-width="0.6"/>
<path d="M421.1 1509.6 L422.9 1509.6 L423.8 1510.8 L423.8 1513.2 L422.9 1514.4 L421.1 1514.4 L420.2 1513.2 L420.2 1510.8Z" fill="#92a4ff" stroke="#92a4ff" stroke-width="0.6"/>
<path d="M436.1 1514.8 L437.9 1514.8 L438.8 1515.9 L438.8 1518.1 L437.9 1519.2 L436.1 1519.2 L435.2 1518.1 L435.2 1515.9Z" fill="#92a4ff" stroke="#92a4ff" stroke-width="0.6"/>
<path d="M425.4 1456.6 L426.6 1456.6 L427.2 1457.3 L427.2 1458.7 L426.6 1459.4 L425.4 1459.4 L424.8 1458.7 L424.8 1457.3Z" fill="#92a4ff" stroke="#92a4ff" stroke-width="0.6"/>
<path d="M421.4 1494.8 L422.6 1494.8 L423.2 1495.4 L423.2 1496.6 L422.6 1497.2 L421.4 1497.2 L420.8 1496.6 L420.8 1495.4Z" fill="#92a4ff" stroke="#92a4ff" stroke-width="0.6"/>
<path d="M355.2 1344.8 L356.8 1344.2 L357.7 1351.5 L357.9 1366.5 L357.2 1374.5 L355.6 1375.5 L354.7 1368.2 L354.5 1352.8Z" fill="#4967ff" stroke="#4967ff" stroke-width="0.6"/>
<path d="M665.5 1520.8 L668.5 1518.2 L671.5 1515.8 L674.5 1513.2 L676.5 1513.5 L677.5 1516.5 L676.0 1520.0 L672.0 1524.0 L668.5 1527.0 L665.5 1529.0 L664.0 1528.0 L664.0 1524.0Z" fill="#4967ff" stroke="#4967ff" stroke-width="0.6"/>
<path d="M681.0 1510.5 L683.0 1507.5 L685.0 1506.5 L687.0 1507.5 L687.0 1510.0 L685.0 1514.0 L683.0 1515.0 L681.0 1513.0Z" fill="#4967ff" stroke="#4967ff" stroke-width="0.6"/>
<path d="M494.8 1347.3 L490.2 1349.9 L486.1 1351.6 L482.6 1352.7 L478.2 1353.7 L473.1 1354.7 L468.5 1357.0 L464.5 1360.6 L461.9 1364.3 L460.9 1368.1 L461.2 1370.8 L462.7 1372.4 L464.5 1377.6 L466.5 1386.3 L469.1 1394.9 L472.1 1403.6 L475.7 1410.7 L479.8 1416.3 L484.6 1420.7 L490.2 1423.7 L495.3 1426.3 L499.9 1428.3 L504.2 1428.6 L508.3 1427.0 L512.4 1426.5 L516.5 1427.0 L520.0 1426.8 L523.1 1425.8 L523.6 1423.2 L521.6 1419.1 L520.8 1415.1 L521.3 1411.0 L522.1 1406.9 L523.1 1402.8 L523.9 1398.2 L524.4 1393.1 L526.4 1389.3 L530.0 1386.8 L534.3 1384.2 L539.4 1381.7 L544.0 1375.6 L548.2 1366.0 L548.2 1360.2 L544.0 1358.2 L539.4 1355.5 L534.3 1351.9 L529.7 1348.3 L525.6 1344.8 L520.5 1342.5 L514.4 1341.4 L508.8 1341.4 L503.7 1342.5 L500.2 1343.7 L498.1 1345.3Z" fill="#dbe1ff" stroke="#dbe1ff" stroke-width="0.6"/>
<path d="M528.7 1351.1 L543.0 1353.2 L550.1 1356.2 L550.1 1360.3 L544.0 1363.4 L531.8 1365.4 L519.5 1365.4 L507.3 1363.4 L501.2 1360.8 L501.2 1357.8 L506.3 1354.7 L516.5 1351.6Z" fill="#b6c2ff" stroke="#b6c2ff" stroke-width="0.6"/>
<path d="M530.7 1355.0 L540.9 1356.5 L546.0 1358.3 L546.0 1360.3 L541.4 1361.1 L532.3 1360.6 L527.2 1358.8 L526.2 1355.7Z" fill="#92a4ff" stroke="#92a4ff" stroke-width="0.6"/>
<path d="M468.5 1359.5 L476.7 1358.0 L482.8 1360.6 L486.9 1367.2 L486.4 1373.6 L481.3 1379.7 L476.2 1382.2 L471.1 1381.2 L467.5 1375.6 L465.5 1365.4Z" fill="#b6c2ff" stroke="#b6c2ff" stroke-width="0.6"/>
<path d="M511.9 1382.2 L521.1 1381.2 L528.7 1382.2 L534.8 1385.3 L537.4 1388.9 L536.3 1392.9 L531.3 1395.0 L522.1 1395.0 L514.9 1391.9 L509.8 1385.8Z" fill="#b6c2ff" stroke="#b6c2ff" stroke-width="0.6"/>
<path d="M524.6 1308.1 L520.5 1309.6 L518.0 1309.6 L517.0 1308.1 L515.7 1308.1 L514.2 1309.6 L512.6 1309.6 L511.1 1308.1 L510.0 1305.8 L509.2 1302.7 L509.2 1299.6 L510.0 1296.6 L511.1 1293.5 L512.6 1290.5 L514.7 1287.7 L517.2 1285.1 L519.5 1283.1 L521.6 1281.5 L522.6 1279.0 L522.6 1275.4 L523.4 1273.1 L524.9 1272.1 L525.1 1270.3 L524.1 1267.8 L524.6 1265.0 L526.7 1261.9 L527.4 1259.4 L526.9 1257.3 L527.4 1256.8 L529.0 1257.8 L530.2 1257.1 L531.3 1254.5 L532.8 1253.8 L534.8 1254.8 L536.3 1254.0 L537.4 1251.5 L538.6 1251.0 L540.2 1252.5 L541.8 1252.0 L543.6 1249.4 L544.4 1249.4 L544.1 1252.0 L544.8 1252.7 L546.3 1251.7 L547.6 1252.2 L548.6 1254.3 L549.6 1254.8 L550.6 1253.8 L553.4 1252.5 L558.0 1251.0 L562.7 1249.8 L567.6 1249.0 L570.0 1248.9 L570.0 1249.4 L570.8 1250.3 L572.3 1251.6 L573.8 1251.6 L575.4 1250.3 L577.6 1249.4 L580.7 1248.9 L583.5 1250.6 L586.1 1254.4 L588.1 1256.1 L589.6 1255.5 L591.2 1256.3 L592.7 1258.4 L594.0 1258.9 L595.0 1257.8 L596.3 1258.5 L597.8 1260.8 L599.6 1261.4 L601.6 1260.4 L604.7 1260.5 L608.7 1261.8 L611.8 1262.6 L613.8 1262.8 L615.2 1261.9 L616.0 1259.9 L617.2 1258.7 L618.7 1258.5 L619.7 1258.7 L620.2 1259.5 L620.1 1260.4 L619.3 1261.4 L619.2 1262.7 L619.7 1264.2 L620.7 1265.9 L622.3 1267.7 L623.7 1269.1 L624.9 1270.1 L626.7 1269.8 L629.0 1268.3 L632.4 1267.9 L637.0 1268.7 L641.4 1269.7 L645.4 1271.0 L647.6 1272.6 L647.9 1274.7 L648.9 1275.2 L650.7 1274.2 L651.8 1273.3 L652.3 1272.5 L653.1 1273.3 L654.1 1275.6 L655.4 1276.1 L656.9 1274.8 L658.7 1274.4 L660.7 1274.9 L662.7 1276.1 L664.4 1277.9 L665.7 1279.8 L666.5 1281.8 L666.6 1283.8 L666.1 1285.9 L664.8 1287.0 L662.8 1287.3 L662.5 1288.0 L664.1 1289.3 L665.1 1291.5 L665.6 1294.5 L666.3 1297.4 L667.4 1299.9 L668.5 1302.7 L669.8 1305.8 L671.1 1309.5 L672.3 1313.8 L671.4 1316.6 L668.4 1317.9 L665.3 1318.9 L662.3 1319.7 L660.0 1319.4 L658.4 1318.1 L657.8 1318.4 L658.1 1320.2 L656.5 1321.2 L653.2 1321.4 L649.0 1321.8 L643.9 1322.3 L641.1 1323.0 L640.6 1323.7 L641.9 1324.2 L644.9 1324.5 L648.0 1325.3 L651.1 1326.5 L654.4 1327.0 L657.9 1326.8 L660.2 1326.5 L661.3 1326.3 L662.8 1327.6 L664.8 1330.4 L667.4 1332.5 L670.4 1334.1 L673.2 1335.6 L675.8 1337.1 L678.3 1339.7 L680.9 1343.2 L683.7 1346.2 L686.7 1348.5 L687.8 1350.5 L686.7 1352.3 L686.5 1354.4 L687.0 1357.0 L687.6 1359.8 L688.4 1362.9 L688.9 1365.8 L689.2 1368.6 L689.2 1370.0 L688.9 1370.1 L688.3 1373.3 L687.3 1379.4 L687.1 1383.7 L687.9 1386.3 L688.4 1388.8 L688.7 1391.4 L687.9 1393.9 L686.1 1396.4 L684.4 1399.0 L682.9 1401.5 L681.4 1403.6 L679.9 1405.1 L679.3 1406.9 L679.9 1408.9 L680.8 1410.2 L682.0 1410.7 L682.5 1412.1 L682.3 1414.4 L680.6 1416.3 L677.6 1417.9 L675.3 1418.8 L673.7 1419.0 L672.8 1418.1 L672.6 1416.1 L672.2 1416.3 L671.7 1418.9 L670.3 1421.4 L668.0 1424.0 L666.6 1426.8 L666.1 1429.8 L665.1 1433.7 L663.5 1438.3 L661.8 1440.8 L659.7 1441.3 L657.9 1442.3 L656.4 1443.9 L656.2 1445.6 L657.2 1447.7 L657.4 1449.5 L656.9 1451.0 L655.6 1452.8 L653.6 1454.8 L651.8 1456.3 L650.3 1457.4 L648.3 1458.6 L645.7 1460.2 L642.4 1462.0 L638.3 1464.0 L634.5 1466.0 L630.9 1468.1 L628.5 1468.1 L627.2 1466.0 L626.2 1465.8 L625.4 1467.3 L623.5 1467.6 L620.5 1466.5 L616.9 1467.1 L612.8 1469.1 L609.5 1470.9 L607.0 1472.4 L602.4 1472.9 L595.7 1472.4 L590.9 1470.6 L587.8 1467.6 L585.8 1466.8 L584.8 1468.3 L582.2 1469.2 L578.2 1469.5 L574.6 1468.7 L571.5 1466.9 L569.5 1465.0 L568.5 1463.0 L567.8 1460.7 L567.6 1458.1 L568.9 1456.3 L571.7 1455.3 L573.8 1453.5 L575.4 1451.0 L575.7 1448.4 L575.0 1445.9 L575.2 1443.9 L576.5 1442.3 L576.4 1439.8 L574.8 1436.2 L573.1 1432.9 L571.0 1429.8 L569.0 1429.1 L566.9 1430.6 L566.4 1430.1 L567.5 1427.5 L568.7 1425.0 L570.3 1422.4 L570.8 1419.1 L570.3 1415.1 L569.4 1412.3 L568.1 1410.7 L566.9 1408.9 L565.9 1406.9 L564.6 1405.1 L563.1 1403.6 L561.1 1401.8 L558.5 1399.8 L555.7 1397.7 L552.7 1395.7 L549.9 1393.9 L547.3 1392.4 L545.0 1391.4 L543.0 1390.8 L540.9 1389.6 L538.9 1387.5 L541.0 1380.2 L547.1 1367.5 L550.2 1361.2 L550.2 1361.3 L544.3 1356.5 L532.6 1346.8 L524.4 1341.7 L519.8 1341.2 L517.0 1338.4 L516.0 1333.3 L516.5 1327.4 L518.5 1320.8 L521.3 1314.9 L524.9 1309.8Z" fill="#ffffff" stroke="#ffffff" stroke-width="0.6"/>
<path d="M519.3 1310.9 L522.8 1309.8 L525.9 1310.4 L528.4 1312.4 L530.2 1318.0 L531.3 1327.2 L533.3 1334.3 L536.3 1339.4 L539.9 1344.5 L544.0 1349.6 L547.1 1354.4 L549.2 1359.0 L547.6 1359.8 L542.5 1356.7 L537.4 1352.9 L532.3 1348.3 L527.7 1345.0 L523.6 1343.0 L520.3 1339.4 L517.7 1334.3 L516.7 1326.7 L517.2 1316.5Z" fill="#b6c2ff" stroke="#b6c2ff" stroke-width="0.6"/>
<path d="M524.6 1312.9 L526.7 1311.9 L528.2 1316.5 L529.2 1326.7 L530.2 1334.3 L531.3 1339.4 L530.7 1340.9 L528.7 1338.9 L526.9 1335.3 L525.4 1330.2 L524.4 1324.1 L523.9 1317.0Z" fill="#ffffff" stroke="#ffffff" stroke-width="0.6"/>
<path d="M537.6 1321.1 L539.2 1320.0 L540.4 1322.6 L541.4 1328.7 L542.7 1334.3 L544.3 1339.4 L544.3 1343.0 L542.7 1345.0 L540.9 1344.0 L538.9 1339.9 L537.6 1333.8 L537.1 1325.6Z" fill="#ffffff" stroke="#ffffff" stroke-width="0.6"/>
<path d="M532.5 1317.2 L534.1 1316.7 L535.3 1320.3 L536.3 1327.9 L537.4 1334.3 L538.4 1339.4 L538.1 1342.0 L536.6 1342.0 L535.1 1339.4 L533.5 1334.3 L532.5 1328.2 L532.0 1321.1Z" fill="#92a4ff" stroke="#92a4ff" stroke-width="0.6"/>
<path d="M514.0 1282.1 L521.4 1280.5 L525.4 1286.6 L525.9 1300.4 L523.5 1308.1 L518.1 1309.6 L514.2 1309.1 L511.6 1306.5 L509.8 1303.2 L508.8 1299.1 L508.8 1293.5 L509.8 1286.4Z" fill="#b6c2ff" stroke="#b6c2ff" stroke-width="0.6"/>
<path d="M518.5 1288.7 L520.5 1288.2 L521.8 1290.2 L522.3 1294.8 L521.6 1297.4 L519.5 1297.9 L518.3 1295.8 L517.7 1291.2Z" fill="#ffffff" stroke="#ffffff" stroke-width="0.6"/>
<path d="M534.3 1256.8 L539.4 1255.8 L544.3 1255.0 L548.8 1254.5 L555.8 1253.5 L565.3 1252.0 L570.0 1251.2 L570.0 1251.2 L572.5 1252.0 L577.6 1253.5 L582.7 1255.8 L587.8 1258.9 L592.9 1261.4 L598.0 1263.5 L603.1 1265.0 L608.2 1266.0 L612.8 1267.5 L616.9 1269.6 L620.5 1271.6 L623.5 1273.6 L625.6 1276.7 L626.6 1280.8 L626.1 1284.4 L624.0 1287.4 L621.0 1289.4 L616.9 1290.5 L613.3 1290.0 L610.3 1287.9 L606.7 1286.4 L602.6 1285.4 L598.0 1285.1 L592.9 1285.6 L588.9 1286.6 L585.8 1288.2 L583.8 1291.0 L582.7 1295.1 L582.5 1300.2 L583.0 1306.3 L583.8 1311.4 L584.8 1315.4 L584.8 1320.0 L583.8 1325.1 L583.8 1331.3 L584.8 1338.4 L586.6 1343.5 L589.1 1346.5 L592.9 1349.1 L598.0 1351.1 L601.6 1353.7 L603.6 1356.7 L603.6 1359.3 L601.6 1361.3 L601.4 1364.3 L602.9 1368.1 L603.9 1370.0 L604.4 1370.0 L604.9 1372.6 L605.4 1377.8 L604.4 1382.9 L601.9 1388.0 L601.6 1392.6 L603.6 1396.7 L603.6 1400.5 L601.6 1404.1 L598.5 1407.2 L594.5 1409.7 L590.6 1411.5 L587.1 1412.5 L584.0 1412.0 L581.5 1410.0 L578.7 1409.4 L575.6 1410.5 L573.1 1411.5 L571.0 1412.5 L570.0 1410.0 L570.0 1403.8 L568.6 1400.5 L565.8 1400.0 L562.6 1398.2 L559.0 1395.2 L555.5 1392.6 L552.0 1390.6 L548.7 1388.5 L545.6 1386.5 L543.5 1383.7 L542.5 1380.1 L543.0 1376.8 L545.0 1373.8 L547.1 1370.7 L549.2 1367.6 L552.0 1364.7 L555.5 1361.8 L558.5 1358.3 L561.1 1354.2 L563.1 1349.6 L564.6 1344.5 L564.6 1340.7 L563.1 1338.1 L561.1 1338.1 L558.5 1340.7 L556.5 1339.4 L555.0 1334.3 L553.7 1329.2 L552.7 1324.1 L551.1 1320.3 L549.1 1317.7 L546.5 1317.7 L543.5 1320.3 L542.0 1326.7 L542.0 1336.9 L540.7 1342.0 L538.1 1342.0 L535.6 1339.4 L533.0 1334.3 L531.8 1325.1 L531.8 1311.9 L530.0 1304.2 L526.4 1302.2 L524.9 1294.3 L525.4 1280.5 L527.2 1269.6 L530.2 1261.4Z" fill="#ffa492" stroke="#ffa492" stroke-width="0.6"/>
<path d="M534.3 1305.8 L539.4 1306.8 L542.0 1310.9 L542.0 1318.0 L542.0 1326.7 L542.0 1336.9 L540.7 1342.0 L538.1 1342.0 L535.6 1339.4 L533.0 1334.3 L531.8 1325.1 L531.8 1311.9Z" fill="#ffc2b6" stroke="#ffc2b6" stroke-width="0.6"/>
<path d="M544.0 1318.5 L546.0 1316.5 L548.1 1317.0 L550.1 1320.0 L551.6 1324.1 L552.7 1329.2 L553.7 1334.3 L554.7 1339.4 L554.4 1344.0 L552.9 1348.1 L551.1 1348.1 L549.1 1344.0 L547.3 1339.4 L545.8 1334.3 L544.5 1328.7 L543.5 1322.6Z" fill="#ffffff" stroke="#ffffff" stroke-width="0.6"/>
<path d="M556.2 1325.1 L558.3 1324.1 L559.5 1325.6 L560.1 1329.7 L559.8 1333.3 L558.8 1336.3 L557.8 1336.3 L556.7 1333.3 L556.0 1330.2 L555.5 1327.2Z" fill="#b6c2ff" stroke="#b6c2ff" stroke-width="0.6"/>
<path d="M563.4 1314.4 L565.4 1312.4 L567.3 1311.9 L569.1 1312.9 L570.0 1315.4 L570.0 1319.5 L568.8 1324.1 L566.6 1329.2 L564.4 1332.8 L562.3 1334.8 L561.1 1333.8 L560.6 1329.7 L560.8 1324.6 L561.8 1318.5Z" fill="#ffffff" stroke="#ffffff" stroke-width="0.6"/>
<path d="M535.6 1265.7 L539.2 1266.3 L541.4 1270.1 L542.5 1277.2 L542.7 1285.9 L542.2 1296.1 L540.4 1300.2 L537.4 1298.1 L535.3 1293.0 L534.3 1284.9 L533.8 1277.0 L533.8 1269.3Z" fill="#ff856d" stroke="#ff856d" stroke-width="0.6"/>
<path d="M553.9 1258.9 L559.5 1259.9 L562.6 1266.0 L563.1 1277.2 L562.9 1287.4 L561.8 1296.6 L559.0 1300.2 L554.4 1298.1 L551.9 1293.0 L551.4 1284.9 L551.1 1275.2 L551.1 1264.0Z" fill="#ff856d" stroke="#ff856d" stroke-width="0.6"/>
<path d="M577.4 1259.1 L582.0 1258.6 L587.1 1259.9 L592.7 1262.9 L595.2 1266.3 L594.7 1269.8 L591.7 1271.9 L586.1 1272.4 L581.5 1271.6 L577.9 1269.6 L575.9 1266.3 L575.4 1261.7Z" fill="#ff856d" stroke="#ff856d" stroke-width="0.6"/>
<path d="M607.2 1274.8 L610.3 1275.0 L612.1 1276.6 L612.6 1279.4 L611.3 1280.9 L608.2 1281.2 L606.4 1279.6 L605.9 1276.3Z" fill="#ff856d" stroke="#ff856d" stroke-width="0.6"/>
<path d="M571.5 1381.2 L574.6 1382.7 L577.4 1386.0 L579.9 1391.1 L580.7 1396.4 L579.7 1402.1 L577.6 1405.4 L574.6 1406.4 L572.3 1406.4 L570.8 1405.4 L570.0 1398.7 L570.0 1386.5Z" fill="#ff856d" stroke="#ff856d" stroke-width="0.6"/>
<path d="M557.0 1376.1 L560.6 1377.6 L564.3 1380.1 L568.1 1383.7 L570.0 1388.8 L570.0 1395.4 L568.1 1397.5 L564.3 1394.9 L560.8 1391.9 L557.8 1388.3 L556.0 1383.7 L555.5 1378.1Z" fill="#ff856d" stroke="#ff856d" stroke-width="0.6"/>
<path d="M612.8 1267.0 L616.9 1268.0 L621.0 1269.8 L625.1 1272.4 L630.7 1274.9 L637.8 1277.5 L643.9 1279.3 L649.0 1280.3 L652.8 1282.8 L655.4 1286.9 L655.9 1291.0 L654.4 1295.1 L650.5 1296.1 L644.4 1294.0 L638.8 1292.5 L633.7 1291.5 L629.1 1290.5 L625.1 1289.4 L624.0 1287.4 L626.1 1284.4 L626.6 1280.8 L625.6 1276.7 L621.5 1272.6 L614.4 1268.5Z" fill="#ffc2b6" stroke="#ffc2b6" stroke-width="0.6"/>
<path d="M635.3 1276.4 L639.3 1278.0 L642.9 1280.3 L646.0 1283.3 L646.7 1286.1 L645.2 1288.7 L642.4 1289.2 L638.3 1287.7 L635.5 1284.1 L634.0 1278.5Z" fill="#ffa492" stroke="#ffa492" stroke-width="0.6"/>
<path d="M587.3 1290.2 L591.4 1288.7 L596.0 1289.2 L601.1 1291.7 L605.2 1295.1 L608.2 1299.1 L609.5 1303.7 L609.0 1308.8 L606.7 1312.9 L602.6 1316.0 L598.0 1317.0 L592.9 1316.0 L589.1 1312.9 L586.6 1307.8 L585.3 1301.7 L585.3 1294.5Z" fill="#b6c2ff" stroke="#b6c2ff" stroke-width="0.6"/>
<path d="M589.1 1294.5 L592.7 1293.5 L596.8 1294.5 L601.4 1297.6 L603.6 1301.7 L603.6 1306.8 L602.4 1310.4 L599.8 1312.4 L596.5 1312.6 L592.4 1311.1 L589.4 1308.6 L587.3 1305.0 L586.6 1301.2 L587.1 1297.1Z" fill="#92a4ff" stroke="#92a4ff" stroke-width="0.6"/>
<path d="M603.1 1319.5 L608.2 1315.4 L614.9 1312.6 L623.0 1311.1 L632.2 1310.1 L642.4 1309.6 L650.0 1310.4 L655.1 1312.4 L658.7 1316.2 L660.7 1321.8 L663.3 1326.4 L666.3 1330.0 L671.4 1333.3 L678.6 1336.3 L682.2 1340.9 L682.2 1347.1 L679.1 1350.6 L673.0 1351.6 L666.3 1350.6 L659.2 1347.6 L652.1 1346.5 L644.9 1347.6 L637.8 1347.6 L630.7 1346.5 L623.5 1344.5 L616.4 1341.4 L610.8 1337.9 L606.7 1333.8 L603.6 1329.2 L601.6 1324.1Z" fill="#ffc2b6" stroke="#ffc2b6" stroke-width="0.6"/>
<path d="M606.2 1325.1 L611.3 1320.0 L618.2 1316.5 L626.8 1314.4 L635.8 1313.7 L644.9 1314.2 L651.6 1316.2 L655.6 1319.8 L658.7 1324.1 L660.7 1329.2 L659.7 1333.3 L655.6 1336.3 L650.5 1337.4 L644.4 1336.3 L638.8 1336.3 L633.7 1337.4 L628.1 1337.4 L622.0 1336.3 L616.4 1335.3 L611.3 1334.3 L607.5 1332.3 L604.9 1329.2Z" fill="#ffa492" stroke="#ffa492" stroke-width="0.6"/>
<path d="M593.7 1335.3 L598.3 1334.3 L601.4 1335.8 L602.9 1339.9 L603.4 1344.0 L602.9 1348.1 L601.1 1350.6 L598.0 1351.6 L595.5 1350.1 L593.5 1346.0 L592.2 1342.0 L591.7 1337.9Z" fill="#b6c2ff" stroke="#b6c2ff" stroke-width="0.6"/>
<path d="M603.1 1360.6 L608.2 1357.0 L614.9 1354.7 L623.0 1353.7 L630.7 1354.2 L637.8 1356.2 L645.4 1358.0 L653.6 1359.5 L661.3 1361.6 L668.4 1364.1 L673.0 1366.6 L675.0 1368.8 L675.0 1370.0 L673.0 1370.0 L670.4 1372.6 L667.4 1377.8 L664.8 1383.7 L662.8 1390.3 L660.7 1395.4 L658.7 1399.0 L653.6 1400.8 L645.4 1400.8 L638.8 1400.3 L633.7 1399.3 L629.1 1397.5 L625.1 1394.9 L621.0 1391.4 L616.9 1386.8 L614.4 1382.2 L613.3 1377.6 L611.8 1374.0 L609.8 1371.3 L606.7 1368.1 L602.6 1364.3Z" fill="#b6c2ff" stroke="#b6c2ff" stroke-width="0.6"/>
<path d="M624.8 1363.8 L632.4 1363.3 L640.1 1364.8 L647.7 1368.4 L653.6 1373.3 L657.7 1379.4 L659.2 1385.2 L658.2 1390.8 L653.6 1394.4 L645.4 1395.9 L638.8 1396.2 L633.7 1395.2 L629.6 1392.4 L626.6 1387.8 L623.3 1383.2 L619.7 1378.6 L618.7 1373.3 L620.2 1367.1Z" fill="#92a4ff" stroke="#92a4ff" stroke-width="0.6"/>
<path d="M630.7 1371.7 L637.8 1370.7 L644.4 1372.2 L650.5 1376.3 L650.5 1378.9 L644.4 1379.9 L638.8 1379.9 L633.7 1378.9 L630.2 1376.8 L628.1 1373.8Z" fill="#dbe1ff" stroke="#dbe1ff" stroke-width="0.6"/>
<path d="M606.7 1369.8 L610.8 1369.4 L613.3 1371.5 L614.4 1376.1 L613.8 1380.4 L611.8 1384.5 L609.3 1387.5 L606.2 1389.6 L604.7 1385.4 L604.7 1375.1Z" fill="#ffc2b6" stroke="#ffc2b6" stroke-width="0.6"/>
<path d="M579.7 1411.0 L586.8 1411.0 L590.9 1413.5 L591.9 1418.6 L591.9 1426.3 L590.9 1436.5 L591.7 1443.6 L594.2 1447.7 L598.0 1450.2 L603.1 1451.3 L606.2 1454.3 L607.2 1459.4 L606.7 1464.0 L604.7 1468.1 L600.3 1470.6 L593.7 1471.6 L587.8 1470.9 L582.7 1468.3 L578.9 1465.8 L576.4 1463.2 L574.8 1456.9 L574.3 1446.7 L574.6 1433.9 L575.6 1418.6Z" fill="#ffc2b6" stroke="#ffc2b6" stroke-width="0.6"/>
<path d="M579.9 1417.1 L583.5 1417.1 L585.3 1422.2 L585.3 1432.4 L584.0 1438.5 L581.5 1440.5 L579.4 1439.0 L577.9 1433.9 L577.4 1427.8 L577.9 1420.7Z" fill="#ffa492" stroke="#ffa492" stroke-width="0.6"/>
<path d="M587.3 1451.8 L593.5 1451.8 L598.5 1453.3 L602.6 1456.3 L604.4 1459.9 L603.9 1464.0 L600.8 1467.1 L595.2 1469.1 L590.4 1468.6 L586.3 1465.5 L584.3 1460.9 L584.3 1454.8Z" fill="#ffa492" stroke="#ffa492" stroke-width="0.6"/>
<path d="M595.0 1418.1 L600.1 1416.1 L606.7 1415.6 L614.9 1416.6 L622.0 1416.6 L628.1 1415.6 L633.7 1416.6 L638.8 1419.6 L641.4 1424.2 L641.4 1430.4 L640.9 1436.5 L639.8 1442.6 L637.3 1447.7 L633.2 1451.8 L628.1 1454.8 L622.0 1456.9 L616.9 1456.3 L612.8 1453.3 L609.8 1449.2 L607.7 1444.1 L604.7 1440.0 L600.6 1437.0 L597.0 1433.4 L594.0 1429.3 L592.4 1425.3 L592.4 1421.2Z" fill="#b6c2ff" stroke="#b6c2ff" stroke-width="0.6"/>
<path d="M614.4 1436.5 L617.4 1434.4 L621.0 1433.7 L625.1 1434.2 L629.4 1435.2 L634.0 1436.7 L636.0 1440.0 L635.5 1445.1 L633.2 1448.7 L629.1 1450.7 L624.3 1451.5 L618.7 1451.0 L614.6 1449.5 L612.1 1446.9 L611.3 1443.6 L612.3 1439.5Z" fill="#92a4ff" stroke="#92a4ff" stroke-width="0.6"/>
<path d="M655.6 1401.8 L659.7 1399.8 L664.3 1398.2 L669.4 1397.2 L674.0 1397.2 L678.1 1398.2 L679.6 1400.8 L678.6 1404.9 L676.5 1409.4 L673.5 1414.5 L669.4 1419.1 L664.3 1423.2 L659.2 1425.8 L654.1 1426.8 L651.3 1425.3 L650.8 1421.2 L651.6 1417.1 L653.6 1413.0 L654.4 1408.9 L653.9 1404.9Z" fill="#ffc2b6" stroke="#ffc2b6" stroke-width="0.6"/>
<path d="M676.0 1383.7 L678.1 1382.2 L679.9 1382.4 L681.4 1384.5 L681.9 1387.3 L681.4 1390.8 L680.1 1392.9 L678.1 1393.4 L676.4 1392.6 L675.1 1390.6 L674.6 1388.3 L674.9 1385.7Z" fill="#ffa492" stroke="#ffa492" stroke-width="0.6"/>
<path d="M673.0 1360.0 L679.1 1360.0 L682.9 1361.5 L684.4 1364.6 L683.4 1367.4 L679.9 1369.9 L676.3 1370.5 L672.7 1368.9 L670.7 1366.1 L670.2 1362.0Z" fill="#ffc2b6" stroke="#ffc2b6" stroke-width="0.6"/>
<path d="M650.0 1430.9 L655.1 1429.8 L658.7 1430.9 L660.7 1433.9 L660.2 1438.5 L657.2 1444.6 L654.1 1448.2 L651.1 1449.2 L648.8 1447.7 L647.2 1443.6 L646.7 1439.0 L647.2 1433.9Z" fill="#ffe1db" stroke="#ffe1db" stroke-width="0.6"/>
<path d="M658.7 1276.4 L662.8 1275.9 L665.3 1277.5 L666.3 1281.0 L665.6 1283.6 L663.0 1285.1 L660.5 1285.1 L657.9 1283.6 L656.7 1281.3 L656.7 1278.2Z" fill="#b6c2ff" stroke="#b6c2ff" stroke-width="0.6"/>
<path d="M666.3 1299.6 L669.4 1300.7 L671.4 1304.7 L672.5 1311.9 L671.2 1316.0 L667.6 1317.0 L665.3 1315.4 L664.3 1311.4 L664.1 1306.8 L664.6 1301.7Z" fill="#b6c2ff" stroke="#b6c2ff" stroke-width="0.6"/>
<path d="M471.4 1375.8 L474.9 1374.8 L477.2 1376.6 L478.2 1381.2 L477.2 1384.2 L474.2 1385.7 L471.6 1385.5 L469.6 1383.5 L468.8 1380.9 L469.3 1377.8Z" fill="#ffffff" stroke="#ffffff" stroke-width="0.6"/>
<path d="M484.1 1373.0 L486.6 1372.5 L488.4 1374.5 L489.4 1379.1 L491.2 1381.9 L493.8 1382.9 L497.6 1383.5 L502.7 1383.5 L506.8 1382.7 L509.8 1381.2 L513.9 1379.4 L519.0 1377.3 L524.1 1375.5 L529.2 1374.0 L533.8 1371.5 L537.9 1367.9 L537.9 1365.9 L533.8 1365.4 L528.7 1365.6 L522.6 1366.6 L517.5 1368.2 L513.4 1370.2 L508.8 1370.7 L503.7 1369.7 L498.6 1368.7 L493.5 1367.6 L489.4 1366.4 L486.4 1364.8 L483.8 1365.1 L481.8 1367.1 L481.3 1369.4 L482.3 1372.0Z" fill="#ffffff" stroke="#ffffff" stroke-width="0.6"/>
<path d="M480.3 1357.0 L483.3 1356.5 L485.1 1359.0 L485.6 1364.6 L484.4 1367.4 L481.3 1367.4 L479.5 1364.9 L479.0 1359.8Z" fill="#ffffff" stroke="#ffffff" stroke-width="0.6"/>
<path d="M496.1 1364.9 L506.3 1363.9 L516.5 1363.1 L526.7 1362.6 L534.3 1363.1 L539.4 1364.6 L542.0 1366.6 L542.0 1368.8 L529.2 1370.0 L503.7 1370.0 L491.0 1368.8 L491.0 1366.6Z" fill="#dbe1ff" stroke="#dbe1ff" stroke-width="0.6"/>
<path d="M481.8 1393.4 L498.1 1392.9 L507.5 1395.9 L510.1 1402.6 L511.9 1408.7 L512.9 1414.3 L511.6 1419.1 L508.1 1423.2 L504.0 1425.3 L499.4 1425.3 L494.8 1424.5 L490.2 1423.0 L486.1 1420.9 L482.6 1418.4 L479.5 1414.8 L477.0 1410.2 L475.2 1404.4 L474.2 1397.2Z" fill="#ffffff" stroke="#ffffff" stroke-width="0.6"/>
<path d="M477.7 1397.7 L481.8 1395.7 L487.2 1394.7 L493.8 1394.7 L499.1 1395.7 L503.2 1397.7 L505.5 1401.3 L506.0 1406.4 L505.8 1411.5 L504.7 1416.6 L502.4 1419.6 L498.9 1420.7 L494.8 1420.7 L490.2 1419.6 L486.1 1417.9 L482.6 1415.3 L479.8 1412.0 L477.7 1407.9 L476.4 1404.1 L475.9 1400.5Z" fill="#ffc2b6" stroke="#ffc2b6" stroke-width="0.6"/>
<path d="M482.3 1406.9 L485.4 1404.9 L490.0 1403.8 L496.1 1403.8 L499.6 1405.6 L500.7 1409.2 L500.7 1412.8 L499.6 1416.3 L497.6 1418.4 L494.5 1418.9 L491.0 1418.1 L486.9 1416.1 L483.8 1413.3 L481.8 1409.7Z" fill="#ffa492" stroke="#ffa492" stroke-width="0.6"/>
<path d="M472.6 1420.4 L476.7 1420.9 L481.0 1422.4 L485.6 1425.0 L490.2 1427.3 L494.8 1429.3 L499.1 1430.4 L503.2 1430.4 L507.3 1430.6 L511.4 1431.1 L511.4 1433.4 L507.3 1437.5 L503.2 1440.0 L499.1 1441.1 L495.1 1441.1 L491.0 1440.0 L488.4 1437.5 L487.4 1433.4 L484.9 1430.9 L480.8 1429.8 L476.7 1427.0 L472.6 1422.4Z" fill="#b6c2ff" stroke="#b6c2ff" stroke-width="0.6"/>
<path d="M464.0 1325.6 L467.0 1325.6 L468.7 1327.2 L468.9 1330.2 L467.5 1331.9 L464.5 1332.1 L462.8 1330.6 L462.6 1327.3Z" fill="#b6c2ff" stroke="#b6c2ff" stroke-width="0.6"/>
<rect x="340" y="1155.1" width="420" height="2.6" fill="#fff"/>
<rect x="340" y="1565.0" width="420" height="3" fill="#fff"/>
<path d="M526.7 1307.3 L518.5 1310.4 L516.5 1307.3 L513.4 1310.4 L510.4 1307.3 L508.8 1301.2 L510.4 1295.1 L513.4 1288.9 L518.5 1283.8 L522.6 1280.8 L522.6 1273.6 L525.6 1271.6 L523.6 1266.5 L527.7 1260.4 L526.7 1256.3 L529.7 1258.4 L531.8 1253.3 L535.8 1255.3 L537.9 1250.2 L540.9 1253.3 L544.5 1248.2 L544.0 1253.3 L547.1 1251.2 L549.1 1255.3 L551.1 1253.3 L560.3 1250.2 L570.0 1248.7 L570.0 1249.7 L573.1 1252.2 L576.1 1249.7 L582.2 1248.7 L587.3 1256.3 L590.4 1255.3 L593.5 1259.4 L595.5 1257.3 L598.5 1261.9 L602.6 1259.9 L610.8 1262.4 L614.9 1262.9 L616.4 1258.9 L619.4 1258.4 L620.5 1259.9 L618.9 1261.9 L620.0 1265.0 L623.0 1268.5 L625.6 1270.6 L630.2 1267.5 L639.3 1269.1 L647.5 1271.6 L648.0 1275.7 L651.6 1273.6 L652.6 1272.1 L654.6 1276.7 L657.7 1274.2 L661.8 1275.2 L665.3 1278.7 L666.9 1282.8 L665.8 1286.9 L661.8 1287.4 L664.8 1290.0 L665.8 1296.1 L667.9 1301.2 L670.4 1307.3 L673.0 1316.0 L666.9 1318.5 L660.7 1320.0 L657.7 1317.5 L658.2 1321.1 L651.6 1321.6 L641.4 1322.6 L640.4 1324.1 L646.5 1324.6 L652.6 1327.2 L659.7 1326.7 L661.8 1326.2 L665.8 1331.8 L672.0 1334.8 L677.1 1337.9 L682.2 1345.0 L688.3 1349.6 L686.2 1353.2 L687.3 1358.3 L688.8 1364.4 L689.3 1370.0 L688.8 1370.2 L686.7 1382.4 L688.3 1387.5 L688.8 1392.6 L685.2 1397.7 L682.2 1402.8 L679.1 1405.9 L680.1 1410.0 L682.7 1411.0 L682.2 1415.6 L676.0 1418.6 L673.0 1419.1 L672.5 1415.1 L671.4 1420.2 L666.9 1425.3 L665.8 1431.4 L662.8 1440.5 L658.7 1441.6 L655.6 1444.6 L657.7 1448.7 L656.7 1451.8 L652.6 1455.8 L649.5 1457.9 L644.4 1460.9 L636.3 1465.0 L629.1 1469.1 L626.6 1465.0 L625.1 1468.1 L618.9 1466.0 L610.8 1470.1 L605.7 1473.2 L592.4 1472.2 L586.3 1466.0 L584.3 1469.1 L576.1 1469.6 L570.0 1466.0 L568.0 1462.0 L567.5 1456.9 L573.1 1454.8 L576.1 1449.7 L574.6 1444.6 L577.1 1441.6 L574.1 1434.4 L570.0 1428.3 L565.9 1431.4 L568.0 1426.3 L571.0 1421.2 L570.0 1413.0 L567.4 1410.0 L565.4 1405.9 L562.3 1402.8 L557.3 1398.7 L551.1 1394.7 L546.0 1391.6 L542.0 1390.6 L537.9 1386.5 L540.9 1391.6 L545.5 1401.8 L540.9 1395.7 L536.9 1395.2 L531.8 1397.7 L528.7 1404.9 L522.6 1404.9 L521.6 1408.9 L518.5 1410.0 L520.5 1417.1 L522.6 1421.2 L524.6 1425.3 L522.6 1429.3 L518.5 1427.3 L515.4 1423.2 L513.4 1421.2 L510.4 1426.3 L505.3 1425.3 L502.2 1429.3 L497.1 1425.3 L493.0 1425.3 L487.9 1422.2 L481.8 1419.1 L477.7 1415.1 L473.6 1407.9 L470.6 1398.7 L467.5 1390.6 L465.5 1380.4 L464.5 1373.3 L461.4 1376.3 L455.3 1381.4 L451.2 1382.4 L451.1 1380.4 L452.1 1374.3 L451.1 1368.2 L450.6 1363.1 L447.5 1362.1 L450.1 1358.0 L453.1 1352.9 L456.2 1347.8 L451.6 1344.7 L454.1 1342.7 L456.2 1339.6 L452.1 1336.6 L456.2 1335.5 L457.7 1330.4 L456.2 1324.3 L452.1 1320.3 L447.0 1318.7 L440.9 1318.7 L437.8 1321.3 L434.8 1325.4 L431.7 1322.3 L433.7 1319.2 L437.8 1318.2 L436.8 1315.2 L433.7 1312.1 L429.7 1310.6 L425.6 1309.0 L423.5 1310.1 L421.5 1305.0 L419.5 1298.8 L415.4 1293.7 L414.4 1285.6 L420.5 1293.7 L424.6 1295.8 L427.6 1302.9 L434.8 1308.5 L436.8 1305.0 L442.9 1305.5 L452.1 1308.0 L461.3 1314.1 L470.4 1320.3 L473.0 1324.3 L475.5 1332.5 L476.1 1338.6 L473.5 1343.7 L476.6 1343.7 L479.6 1340.6 L482.7 1342.7 L481.7 1347.8 L479.6 1349.8 L483.7 1347.3 L485.2 1348.8 L483.7 1352.4 L480.1 1353.7 L486.8 1351.9 L488.8 1347.8 L492.9 1347.3 L497.0 1344.7 L501.0 1342.7 L505.1 1341.7 L507.2 1338.6 L511.2 1341.7 L516.3 1341.7 L514.3 1339.6 L513.3 1333.5 L516.3 1328.4 L519.4 1320.3 L522.4 1312.1 L526.7 1307.3 M497.5 1314.1 L501.0 1312.1 L504.1 1315.2 L506.1 1315.2 L510.2 1319.2 L509.7 1326.4 L507.2 1330.4 L504.1 1328.4 L501.5 1322.3 L498.0 1318.2 L497.5 1314.1 M487.3 1335.0 L489.8 1339.6 L491.9 1341.7 L492.9 1338.1 L497.0 1336.6 L501.0 1335.5 L497.0 1337.6 L491.9 1338.6 L487.3 1335.0 M440.9 1322.3 L446.0 1321.3 L452.1 1323.3 L455.2 1328.4 L454.1 1332.5 L452.1 1329.4 L448.0 1326.4 L443.9 1325.4 L440.9 1322.3 M445.0 1326.4 L448.0 1330.4 L452.1 1332.5 L450.1 1334.5 L446.0 1333.5 L445.0 1329.4 L445.0 1326.4 M440.4 1329.9 L442.1 1330.4 L442.4 1335.0 L440.7 1335.5 L440.4 1329.9 M415.9 1273.4 L420.0 1272.8 L422.0 1280.5 L419.5 1284.6 L416.9 1280.5 L415.9 1273.4 M407.7 1274.4 L408.8 1278.5 L408.3 1280.5 L407.4 1277.4 L407.7 1274.4 M413.4 1286.6 L416.9 1290.7 L415.9 1296.8 L413.9 1293.7 L413.4 1286.6 M443.9 1371.2 L447.0 1370.7 L448.0 1377.3 L446.5 1382.4 L445.0 1377.3 L443.9 1371.2 M422.5 1309.0 L425.6 1308.0 L427.6 1312.1 L425.6 1314.1 L422.5 1312.1 L422.5 1309.0 M418.5 1300.9 L420.5 1302.9 L421.5 1307.0 L419.5 1305.0 L418.5 1300.9 M528.7 1417.1 L530.7 1415.6 L532.8 1418.1 L532.3 1421.2 L530.2 1422.2 L528.7 1420.2 L528.7 1417.1 M532.3 1403.3 L533.3 1404.9 L535.8 1407.9 L534.3 1408.4 L532.3 1403.3 M444.1 1371.2 L447.1 1370.2 L447.6 1376.3 L447.1 1382.4 L445.1 1380.4 L444.1 1371.2 M464.0 1391.4 L465.8 1391.8 L466.2 1393.8 L464.4 1393.6 L464.0 1391.4 M465.0 1396.5 L466.8 1396.9 L467.2 1398.9 L465.4 1398.7 L465.0 1396.5 M466.0 1400.6 L467.8 1401.0 L468.2 1403.0 L466.4 1402.8 L466.0 1400.6 M468.5 1406.7 L470.4 1407.1 L470.8 1409.1 L469.0 1408.9 L468.5 1406.7 M470.1 1410.8 L471.9 1411.2 L472.3 1413.2 L470.5 1413.0 L470.1 1410.8 M471.1 1415.9 L472.9 1416.3 L473.3 1418.3 L471.5 1418.1 L471.1 1415.9 M505.3 1423.2 L508.3 1421.2 L511.4 1423.2 L513.4 1425.3 L510.4 1427.3 L507.3 1426.3 L505.3 1423.2 M410.0 1263.0 L410.6 1263.4 M407.4 1283.3 L408.1 1283.8 M406.9 1287.9 L407.5 1288.3 M434.5 1330.8 L435.1 1331.2 M437.0 1330.8 L437.6 1331.2 M440.1 1301.2 L440.7 1301.6 M465.4 1195.2 L466.6 1196.0 M424.4 1240.6 L425.6 1241.4 M693.1 1366.9 L693.7 1367.3 M690.0 1377.1 L690.6 1377.5 M692.6 1392.9 L693.2 1393.3 M585.0 1486.7 L585.6 1487.1 M584.4 1486.2 L585.6 1487.0 M590.4 1490.6 L591.6 1491.4 M515.7 1275.0 L516.3 1275.4 M520.8 1264.3 L521.4 1264.7 M520.6 1264.5 L521.2 1264.9 M514.9 1273.6 L517.0 1273.1 L518.0 1277.2 L516.0 1276.2 L514.9 1273.6 M691.3 1386.5 L692.9 1386.0 L693.6 1387.5 L692.3 1388.8 L691.1 1387.7 L691.3 1386.5" fill="none" stroke="#000" stroke-width="1.0" stroke-linejoin="round"/>
<g fill="none" stroke="#b0b0b0" stroke-width="1.9"><ellipse cx="550.2" cy="1361.3" rx="29.1" ry="28.6"/><ellipse cx="550.2" cy="1361.3" rx="58.3" ry="57.2"/><ellipse cx="550.2" cy="1361.3" rx="87.8" ry="86.1"/><ellipse cx="550.2" cy="1361.3" rx="117.7" ry="115.4"/><ellipse cx="550.2" cy="1361.3" rx="147.9" ry="145.0"/><ellipse cx="550.2" cy="1361.3" rx="178.8" ry="175.3"/><line x1="360.3" y1="1253.8" x2="740.1" y2="1468.8"/><line x1="550.2" y1="1146.3" x2="550.2" y2="1576.3"/><line x1="740.1" y1="1253.8" x2="360.3" y2="1468.8"/></g>
<rect x="548.3" y="1359.4" width="3.6" height="3.6" fill="#fff"/>
</g>
<circle cx="550.2" cy="1361.3" r="206.0" fill="none" stroke="#000" stroke-width="1.6"/>
<g>
<path d="M790.4 254.8 L790.4 236.6 L811.1 222.9 L831.9 236.6 L831.9 254.8 Z" fill="#ff2a00"/>
<rect x="790.4" y="254.50" width="41.5" height="18.25" fill="#ff5a00"/>
<rect x="790.4" y="272.45" width="41.5" height="18.25" fill="#ff7d00"/>
<rect x="790.4" y="290.40" width="41.5" height="18.25" fill="#ff960a"/>
<rect x="790.4" y="308.35" width="41.5" height="18.25" fill="#ffae17"/>
<rect x="790.4" y="326.30" width="41.5" height="18.25" fill="#f8cc23"/>
<rect x="790.4" y="344.25" width="41.5" height="18.25" fill="#dcc820"/>
<rect x="790.4" y="362.20" width="41.5" height="18.25" fill="#b0c01c"/>
<rect x="790.4" y="380.15" width="41.5" height="18.25" fill="#8ab516"/>
<rect x="790.4" y="398.10" width="41.5" height="18.25" fill="#5dac0e"/>
<rect x="790.4" y="416.05" width="41.5" height="18.25" fill="#3e9c35"/>
<rect x="790.4" y="434.00" width="41.5" height="18.25" fill="#3a8a68"/>
<rect x="790.4" y="451.95" width="41.5" height="18.25" fill="#08768e"/>
<rect x="790.4" y="469.90" width="41.5" height="18.25" fill="#0058c0"/>
<path d="M790.4 487.9 L790.4 505.6 L811.1 519.3 L831.9 505.6 L831.9 487.9 Z" fill="#002aff"/>
<path d="M790.4 236.6 L811.1 222.9 L831.9 236.6 L831.9 505.6 L811.1 519.3 L790.4 505.6 Z" fill="none" stroke="#000" stroke-width="1.5" stroke-linejoin="miter"/>
<text x="895.7" y="261.4" font-size="19.1" text-anchor="end" letter-spacing="1.5">1035.0</text>
<text x="895.7" y="279.3" font-size="19.1" text-anchor="end" letter-spacing="1.5">1025.0</text>
<text x="895.7" y="297.3" font-size="19.1" text-anchor="end" letter-spacing="1.5">1020.0</text>
<text x="895.7" y="315.2" font-size="19.1" text-anchor="end" letter-spacing="1.5">1015.0</text>
<text x="895.7" y="333.2" font-size="19.1" text-anchor="end" letter-spacing="1.5">1010.0</text>
<text x="895.7" y="351.1" font-size="19.1" text-anchor="end" letter-spacing="1.5">1005.0</text>
<text x="895.7" y="369.1" font-size="19.1" text-anchor="end" letter-spacing="1.5">1000.0</text>
<text x="895.7" y="387.0" font-size="19.1" text-anchor="end" letter-spacing="1.5">995.0</text>
<text x="895.7" y="405.0" font-size="19.1" text-anchor="end" letter-spacing="1.5">990.0</text>
<text x="895.7" y="422.9" font-size="19.1" text-anchor="end" letter-spacing="1.5">985.0</text>
<text x="895.7" y="440.9" font-size="19.1" text-anchor="end" letter-spacing="1.5">980.0</text>
<text x="895.7" y="458.8" font-size="19.1" text-anchor="end" letter-spacing="1.5">975.0</text>
<text x="895.7" y="476.8" font-size="19.1" text-anchor="end" letter-spacing="1.5">965.0</text>
<text x="895.7" y="494.8" font-size="19.1" text-anchor="end" letter-spacing="1.5">955.0</text>
</g>
<g>
<path d="M790.4 749.8 L790.4 731.6 L811.1 717.9 L831.9 731.6 L831.9 749.8 Z" fill="#ff2a00"/>
<rect x="790.4" y="749.50" width="41.5" height="18.25" fill="#ff5a00"/>
<rect x="790.4" y="767.45" width="41.5" height="18.25" fill="#ff7d00"/>
<rect x="790.4" y="785.40" width="41.5" height="18.25" fill="#ff960a"/>
<rect x="790.4" y="803.35" width="41.5" height="18.25" fill="#ffae17"/>
<rect x="790.4" y="821.30" width="41.5" height="18.25" fill="#f8cc23"/>
<rect x="790.4" y="839.25" width="41.5" height="18.25" fill="#dcc820"/>
<rect x="790.4" y="857.20" width="41.5" height="18.25" fill="#b0c01c"/>
<rect x="790.4" y="875.15" width="41.5" height="18.25" fill="#8ab516"/>
<rect x="790.4" y="893.10" width="41.5" height="18.25" fill="#5dac0e"/>
<rect x="790.4" y="911.05" width="41.5" height="18.25" fill="#3e9c35"/>
<rect x="790.4" y="929.00" width="41.5" height="18.25" fill="#3a8a68"/>
<rect x="790.4" y="946.95" width="41.5" height="18.25" fill="#08768e"/>
<rect x="790.4" y="964.90" width="41.5" height="18.25" fill="#0058c0"/>
<path d="M790.4 982.9 L790.4 1000.6 L811.1 1014.3 L831.9 1000.6 L831.9 982.9 Z" fill="#002aff"/>
<path d="M790.4 731.6 L811.1 717.9 L831.9 731.6 L831.9 1000.6 L811.1 1014.3 L790.4 1000.6 Z" fill="none" stroke="#000" stroke-width="1.5" stroke-linejoin="miter"/>
<text x="895.7" y="756.4" font-size="19.1" text-anchor="end" letter-spacing="1.5">1035.0</text>
<text x="895.7" y="774.4" font-size="19.1" text-anchor="end" letter-spacing="1.5">1025.0</text>
<text x="895.7" y="792.3" font-size="19.1" text-anchor="end" letter-spacing="1.5">1020.0</text>
<text x="895.7" y="810.2" font-size="19.1" text-anchor="end" letter-spacing="1.5">1015.0</text>
<text x="895.7" y="828.2" font-size="19.1" text-anchor="end" letter-spacing="1.5">1010.0</text>
<text x="895.7" y="846.1" font-size="19.1" text-anchor="end" letter-spacing="1.5">1005.0</text>
<text x="895.7" y="864.1" font-size="19.1" text-anchor="end" letter-spacing="1.5">1000.0</text>
<text x="895.7" y="882.0" font-size="19.1" text-anchor="end" letter-spacing="1.5">995.0</text>
<text x="895.7" y="900.0" font-size="19.1" text-anchor="end" letter-spacing="1.5">990.0</text>
<text x="895.7" y="917.9" font-size="19.1" text-anchor="end" letter-spacing="1.5">985.0</text>
<text x="895.7" y="935.9" font-size="19.1" text-anchor="end" letter-spacing="1.5">980.0</text>
<text x="895.7" y="953.9" font-size="19.1" text-anchor="end" letter-spacing="1.5">975.0</text>
<text x="895.7" y="971.8" font-size="19.1" text-anchor="end" letter-spacing="1.5">965.0</text>
<text x="895.7" y="989.8" font-size="19.1" text-anchor="end" letter-spacing="1.5">955.0</text>
</g>
<g>
<path d="M790.4 1244.8 L790.4 1226.6 L811.1 1212.9 L831.9 1226.6 L831.9 1244.8 Z" fill="#ff2a00"/>
<rect x="790.4" y="1244.50" width="41.5" height="18.25" fill="#ff4824"/>
<rect x="790.4" y="1262.45" width="41.5" height="18.25" fill="#ff6749"/>
<rect x="790.4" y="1280.40" width="41.5" height="18.25" fill="#ff856d"/>
<rect x="790.4" y="1298.35" width="41.5" height="18.25" fill="#ffa492"/>
<rect x="790.4" y="1316.30" width="41.5" height="18.25" fill="#ffc2b6"/>
<rect x="790.4" y="1334.25" width="41.5" height="18.25" fill="#ffe1db"/>
<rect x="790.4" y="1352.20" width="41.5" height="18.25" fill="#ffffff"/>
<rect x="790.4" y="1370.15" width="41.5" height="18.25" fill="#dbe1ff"/>
<rect x="790.4" y="1388.10" width="41.5" height="18.25" fill="#b6c2ff"/>
<rect x="790.4" y="1406.05" width="41.5" height="18.25" fill="#92a4ff"/>
<rect x="790.4" y="1424.00" width="41.5" height="18.25" fill="#6d85ff"/>
<rect x="790.4" y="1441.95" width="41.5" height="18.25" fill="#4967ff"/>
<rect x="790.4" y="1459.90" width="41.5" height="18.25" fill="#2448ff"/>
<path d="M790.4 1477.8 L790.4 1495.6 L811.1 1509.3 L831.9 1495.6 L831.9 1477.8 Z" fill="#002aff"/>
<path d="M790.4 1226.6 L811.1 1212.9 L831.9 1226.6 L831.9 1495.6 L811.1 1509.3 L790.4 1495.6 Z" fill="none" stroke="#000" stroke-width="1.5" stroke-linejoin="miter"/>
<text x="885.6" y="1251.4" font-size="19.1" text-anchor="end" letter-spacing="1.5">16.0</text>
<text x="885.6" y="1269.4" font-size="19.1" text-anchor="end" letter-spacing="1.5">12.0</text>
<text x="885.6" y="1287.3" font-size="19.1" text-anchor="end" letter-spacing="1.5">8.0</text>
<text x="885.6" y="1305.2" font-size="19.1" text-anchor="end" letter-spacing="1.5">4.0</text>
<text x="885.6" y="1323.2" font-size="19.1" text-anchor="end" letter-spacing="1.5">2.0</text>
<text x="885.6" y="1341.2" font-size="19.1" text-anchor="end" letter-spacing="1.5">1.0</text>
<text x="885.6" y="1359.1" font-size="19.1" text-anchor="end" letter-spacing="1.5">0.5</text>
<text x="885.6" y="1377.1" font-size="19.1" text-anchor="end" letter-spacing="1.5">-0.5</text>
<text x="885.6" y="1395.0" font-size="19.1" text-anchor="end" letter-spacing="1.5">-1.0</text>
<text x="885.6" y="1413.0" font-size="19.1" text-anchor="end" letter-spacing="1.5">-2.0</text>
<text x="885.6" y="1430.9" font-size="19.1" text-anchor="end" letter-spacing="1.5">-4.0</text>
<text x="885.6" y="1448.9" font-size="19.1" text-anchor="end" letter-spacing="1.5">-8.0</text>
<text x="885.6" y="1466.8" font-size="19.1" text-anchor="end" letter-spacing="1.5">-12.0</text>
<text x="885.6" y="1484.8" font-size="19.1" text-anchor="end" letter-spacing="1.5">-16.0</text>
</g>
<text x="482.0" y="77.5" font-size="38.40" text-anchor="start" textLength="68.5" lengthAdjust="spacing" xml:space="preserve">PSL</text>
<text x="560.5" y="77.5" font-size="38.40" text-anchor="start" textLength="83.0" lengthAdjust="spacing" xml:space="preserve">ANN</text>
<text x="655.0" y="77.5" font-size="38.40" text-anchor="start" textLength="139.0" lengthAdjust="spacing" xml:space="preserve">polar_S</text>
<text x="344.3" y="153.1" font-size="19.10" text-anchor="start" textLength="836.5" lengthAdjust="spacing" xml:space="preserve">E3SM_SRC2.ne30pg2_r05_oECv3.F-MMF1.210119.RRTMGP.crm32.nrad16.00 (0001-0004)</text>
<text x="344.3" y="648.1" font-size="19.10" text-anchor="start" textLength="339.5" lengthAdjust="spacing" xml:space="preserve">ERA-Interim Reanalysis (1979-2016)</text>
<text x="551.0" y="1141.6" font-size="24.40" text-anchor="middle" textLength="243.0" lengthAdjust="spacing" xml:space="preserve">Model - Observation</text>
<text x="708.8" y="153.1" font-size="19.10" text-anchor="start" textLength="48.5" lengthAdjust="spacing" xml:space="preserve">mbar</text>
<text x="791.2" y="161.9" font-size="19.10" text-anchor="start" textLength="36.5" lengthAdjust="spacing" xml:space="preserve">Max</text>
<text x="791.2" y="183.6" font-size="19.10" text-anchor="start" textLength="49.5" lengthAdjust="spacing" xml:space="preserve">Mean</text>
<text x="791.2" y="205.3" font-size="19.10" text-anchor="start" textLength="32.0" lengthAdjust="spacing" xml:space="preserve">Min</text>
<text x="708.8" y="648.1" font-size="19.10" text-anchor="start" textLength="48.5" lengthAdjust="spacing" xml:space="preserve">mbar</text>
<text x="791.2" y="656.9" font-size="19.10" text-anchor="start" textLength="36.5" lengthAdjust="spacing" xml:space="preserve">Max</text>
<text x="791.2" y="678.6" font-size="19.10" text-anchor="start" textLength="49.5" lengthAdjust="spacing" xml:space="preserve">Mean</text>
<text x="791.2" y="700.3" font-size="19.10" text-anchor="start" textLength="32.0" lengthAdjust="spacing" xml:space="preserve">Min</text>
<text x="708.8" y="1141.9" font-size="19.10" text-anchor="start" textLength="48.5" lengthAdjust="spacing" xml:space="preserve">mbar</text>
<text x="791.2" y="1151.9" font-size="19.10" text-anchor="start" textLength="36.5" lengthAdjust="spacing" xml:space="preserve">Max</text>
<text x="791.2" y="1173.6" font-size="19.10" text-anchor="start" textLength="49.5" lengthAdjust="spacing" xml:space="preserve">Mean</text>
<text x="791.2" y="1195.3" font-size="19.10" text-anchor="start" textLength="32.0" lengthAdjust="spacing" xml:space="preserve">Min</text>
<text x="918.3" y="161.9" font-size="19.10" text-anchor="end" textLength="77.0" lengthAdjust="spacing" xml:space="preserve">1013.78</text>
<text x="918.3" y="183.6" font-size="19.10" text-anchor="end" textLength="65.1" lengthAdjust="spacing" xml:space="preserve">986.68</text>
<text x="918.3" y="205.3" font-size="19.10" text-anchor="end" textLength="65.1" lengthAdjust="spacing" xml:space="preserve">975.96</text>
<text x="918.3" y="656.9" font-size="19.10" text-anchor="end" textLength="77.0" lengthAdjust="spacing" xml:space="preserve">1014.61</text>
<text x="918.3" y="678.6" font-size="19.10" text-anchor="end" textLength="65.1" lengthAdjust="spacing" xml:space="preserve">990.23</text>
<text x="918.3" y="700.3" font-size="19.10" text-anchor="end" textLength="65.1" lengthAdjust="spacing" xml:space="preserve">979.78</text>
<text x="918.3" y="1151.9" font-size="19.10" text-anchor="end" textLength="41.2" lengthAdjust="spacing" xml:space="preserve">6.58</text>
<text x="918.3" y="1173.6" font-size="19.10" text-anchor="end" textLength="48.0" lengthAdjust="spacing" xml:space="preserve">-3.55</text>
<text x="918.3" y="1195.3" font-size="19.10" text-anchor="end" textLength="48.0" lengthAdjust="spacing" xml:space="preserve">-8.58</text>
<text x="791.2" y="1545.8" font-size="19.10" text-anchor="start" textLength="52.5" lengthAdjust="spacing" xml:space="preserve">RMSE</text>
<text x="791.2" y="1567.5" font-size="19.10" text-anchor="start" textLength="54.0" lengthAdjust="spacing" xml:space="preserve">CORR</text>
<text x="918.3" y="1545.8" font-size="19.10" text-anchor="end" textLength="41.3" lengthAdjust="spacing" xml:space="preserve">4.50</text>
<text x="918.3" y="1567.5" font-size="19.10" text-anchor="end" textLength="41.3" lengthAdjust="spacing" xml:space="preserve">0.95</text>
</svg></body></html>
